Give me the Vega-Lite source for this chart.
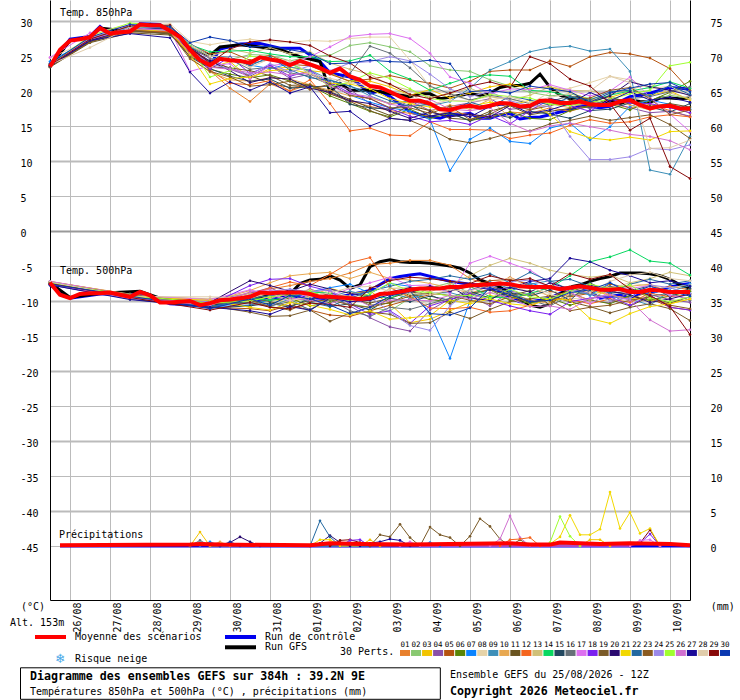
{"$schema":"https://vega.github.io/schema/vega-lite/v6.json","width":640,"height":600,"autosize":{"type":"none"},"padding":{"left":50,"top":0,"right":50,"bottom":100},"background":"white","config":{"view":{"stroke":null},"text":{"font":"DejaVu Sans Mono","fontSize":10,"align":"left","baseline":"middle","color":"black"},"axis":{"labelFont":"DejaVu Sans Mono","labelFontSize":10,"labelColor":"black","title":null}},"datasets":{"one":[{}],
"main850":[
{"m":"ctl","t":0,"v":23.5},{"m":"ctl","t":12,"v":27.4},{"m":"ctl","t":24,"v":27.8},{"m":"ctl","t":30,"v":29.2},{"m":"ctl","t":36,"v":28},{"m":"ctl","t":48,"v":28.6},{"m":"ctl","t":54,"v":29.6},{"m":"ctl","t":66,"v":29.5},{"m":"ctl","t":78,"v":27.6},{"m":"ctl","t":84,"v":25.6},{"m":"ctl","t":96,"v":23.7},{"m":"ctl","t":102,"v":26},{"m":"ctl","t":108,"v":26.3},{"m":"ctl","t":114,"v":26.7},{"m":"ctl","t":126,"v":26.8},{"m":"ctl","t":138,"v":26.1},{"m":"ctl","t":150,"v":26.1},{"m":"ctl","t":162,"v":24.2},{"m":"ctl","t":168,"v":22.6},{"m":"ctl","t":180,"v":22},{"m":"ctl","t":192,"v":19.7},{"m":"ctl","t":198,"v":20},{"m":"ctl","t":204,"v":19.2},{"m":"ctl","t":216,"v":17},{"m":"ctl","t":222,"v":16.6},{"m":"ctl","t":234,"v":16.1},{"m":"ctl","t":240,"v":16.6},{"m":"ctl","t":246,"v":16.6},{"m":"ctl","t":252,"v":16.8},{"m":"ctl","t":258,"v":16.1},{"m":"ctl","t":264,"v":16.1},{"m":"ctl","t":270,"v":16.6},{"m":"ctl","t":276,"v":16.8},{"m":"ctl","t":282,"v":16},{"m":"ctl","t":288,"v":16.2},{"m":"ctl","t":294,"v":16.3},{"m":"ctl","t":300,"v":16.6},{"m":"ctl","t":306,"v":17},{"m":"ctl","t":312,"v":17.3},{"m":"ctl","t":318,"v":17.9},{"m":"ctl","t":324,"v":17.8},{"m":"ctl","t":330,"v":17.6},{"m":"ctl","t":336,"v":17.8},{"m":"ctl","t":342,"v":18.5},{"m":"ctl","t":348,"v":19.2},{"m":"ctl","t":354,"v":19.4},{"m":"ctl","t":360,"v":19.7},{"m":"ctl","t":366,"v":20.1},{"m":"ctl","t":372,"v":20.5},{"m":"ctl","t":378,"v":20.4},{"m":"ctl","t":384,"v":20.3},
{"m":"gfs","t":0,"v":23.5},{"m":"gfs","t":12,"v":27.2},{"m":"gfs","t":24,"v":27.7},{"m":"gfs","t":30,"v":29},{"m":"gfs","t":48,"v":28.5},{"m":"gfs","t":60,"v":29.5},{"m":"gfs","t":72,"v":28.7},{"m":"gfs","t":84,"v":26},{"m":"gfs","t":96,"v":25.1},{"m":"gfs","t":102,"v":26.3},{"m":"gfs","t":114,"v":26.6},{"m":"gfs","t":126,"v":26.3},{"m":"gfs","t":138,"v":25.9},{"m":"gfs","t":150,"v":24.9},{"m":"gfs","t":162,"v":24.2},{"m":"gfs","t":168,"v":19.9},{"m":"gfs","t":174,"v":21.1},{"m":"gfs","t":180,"v":20.1},{"m":"gfs","t":192,"v":20.1},{"m":"gfs","t":216,"v":19.2},{"m":"gfs","t":222,"v":19.6},{"m":"gfs","t":228,"v":19.6},{"m":"gfs","t":234,"v":18.9},{"m":"gfs","t":240,"v":19.1},{"m":"gfs","t":246,"v":19.4},{"m":"gfs","t":252,"v":19.6},{"m":"gfs","t":258,"v":19.4},{"m":"gfs","t":264,"v":19.7},{"m":"gfs","t":270,"v":20.5},{"m":"gfs","t":276,"v":20.8},{"m":"gfs","t":282,"v":20.8},{"m":"gfs","t":288,"v":21.1},{"m":"gfs","t":294,"v":22.4},{"m":"gfs","t":300,"v":20.5},{"m":"gfs","t":306,"v":19.4},{"m":"gfs","t":312,"v":18.9},{"m":"gfs","t":318,"v":19.1},{"m":"gfs","t":324,"v":18.2},{"m":"gfs","t":330,"v":18},{"m":"gfs","t":336,"v":18.7},{"m":"gfs","t":342,"v":18.2},{"m":"gfs","t":348,"v":18.7},{"m":"gfs","t":354,"v":18.5},{"m":"gfs","t":360,"v":18.4},{"m":"gfs","t":366,"v":19},{"m":"gfs","t":372,"v":19},{"m":"gfs","t":378,"v":18.9},{"m":"gfs","t":384,"v":19},
{"m":"moy","t":0,"v":23.5},{"m":"moy","t":6,"v":25.9},{"m":"moy","t":12,"v":27.2},{"m":"moy","t":18,"v":27.4},{"m":"moy","t":24,"v":27.7},{"m":"moy","t":30,"v":29},{"m":"moy","t":36,"v":28.2},{"m":"moy","t":42,"v":28.4},{"m":"moy","t":48,"v":28.5},{"m":"moy","t":54,"v":29.5},{"m":"moy","t":60,"v":29.4},{"m":"moy","t":66,"v":29.4},{"m":"moy","t":72,"v":28.6},{"m":"moy","t":78,"v":27.7},{"m":"moy","t":84,"v":25.9},{"m":"moy","t":90,"v":24.4},{"m":"moy","t":96,"v":23.7},{"m":"moy","t":102,"v":24.6},{"m":"moy","t":108,"v":24.4},{"m":"moy","t":114,"v":24.3},{"m":"moy","t":120,"v":24},{"m":"moy","t":126,"v":24.8},{"m":"moy","t":132,"v":24.5},{"m":"moy","t":138,"v":24.3},{"m":"moy","t":144,"v":23.7},{"m":"moy","t":150,"v":24.3},{"m":"moy","t":156,"v":23.8},{"m":"moy","t":162,"v":23.3},{"m":"moy","t":168,"v":22.6},{"m":"moy","t":174,"v":23.2},{"m":"moy","t":180,"v":22.1},{"m":"moy","t":186,"v":21.6},{"m":"moy","t":192,"v":20.7},{"m":"moy","t":198,"v":20.5},{"m":"moy","t":204,"v":19.9},{"m":"moy","t":210,"v":19.2},{"m":"moy","t":216,"v":18.6},{"m":"moy","t":222,"v":18.6},{"m":"moy","t":228,"v":18.2},{"m":"moy","t":234,"v":17.4},{"m":"moy","t":240,"v":17.3},{"m":"moy","t":246,"v":17.7},{"m":"moy","t":252,"v":17.9},{"m":"moy","t":258,"v":17.6},{"m":"moy","t":264,"v":17.9},{"m":"moy","t":270,"v":18.3},{"m":"moy","t":276,"v":18.2},{"m":"moy","t":282,"v":17.8},{"m":"moy","t":288,"v":17.9},{"m":"moy","t":294,"v":18.6},{"m":"moy","t":300,"v":18.6},{"m":"moy","t":306,"v":18.3},{"m":"moy","t":312,"v":18.3},{"m":"moy","t":318,"v":18.5},{"m":"moy","t":324,"v":18.1},{"m":"moy","t":330,"v":18},{"m":"moy","t":336,"v":18},{"m":"moy","t":342,"v":18.5},{"m":"moy","t":348,"v":18.7},{"m":"moy","t":354,"v":18},{"m":"moy","t":360,"v":17.5},{"m":"moy","t":366,"v":17.8},{"m":"moy","t":372,"v":17.9},{"m":"moy","t":378,"v":17.5},{"m":"moy","t":384,"v":17.5}],
"main500":[
{"m":"ctl","t":0,"v":-7.7},{"m":"ctl","t":12,"v":-9.6},{"m":"ctl","t":30,"v":-9},{"m":"ctl","t":54,"v":-8.9},{"m":"ctl","t":72,"v":-10.4},{"m":"ctl","t":96,"v":-10.7},{"m":"ctl","t":120,"v":-9.9},{"m":"ctl","t":144,"v":-9.3},{"m":"ctl","t":168,"v":-9.7},{"m":"ctl","t":192,"v":-8.5},{"m":"ctl","t":204,"v":-6.8},{"m":"ctl","t":210,"v":-6.5},{"m":"ctl","t":216,"v":-6.3},{"m":"ctl","t":222,"v":-6.1},{"m":"ctl","t":240,"v":-7.2},{"m":"ctl","t":252,"v":-7.6},{"m":"ctl","t":258,"v":-7.7},{"m":"ctl","t":270,"v":-8.7},{"m":"ctl","t":276,"v":-9.6},{"m":"ctl","t":282,"v":-10.1},{"m":"ctl","t":288,"v":-10.1},{"m":"ctl","t":294,"v":-9.9},{"m":"ctl","t":300,"v":-9.6},{"m":"ctl","t":306,"v":-8.9},{"m":"ctl","t":312,"v":-8.2},{"m":"ctl","t":318,"v":-8.4},{"m":"ctl","t":324,"v":-8.7},{"m":"ctl","t":330,"v":-9.6},{"m":"ctl","t":336,"v":-9.4},{"m":"ctl","t":342,"v":-9.1},{"m":"ctl","t":348,"v":-9.6},{"m":"ctl","t":354,"v":-8.9},{"m":"ctl","t":360,"v":-8.9},{"m":"ctl","t":366,"v":-8.4},{"m":"ctl","t":372,"v":-8},{"m":"ctl","t":378,"v":-7.7},{"m":"ctl","t":384,"v":-7.5},
{"m":"gfs","t":0,"v":-7.4},{"m":"gfs","t":12,"v":-9.5},{"m":"gfs","t":30,"v":-8.9},{"m":"gfs","t":54,"v":-8.6},{"m":"gfs","t":72,"v":-10.1},{"m":"gfs","t":96,"v":-10.5},{"m":"gfs","t":120,"v":-9.5},{"m":"gfs","t":144,"v":-9},{"m":"gfs","t":150,"v":-7.5},{"m":"gfs","t":156,"v":-7},{"m":"gfs","t":162,"v":-6.9},{"m":"gfs","t":168,"v":-6.4},{"m":"gfs","t":174,"v":-7},{"m":"gfs","t":180,"v":-8.2},{"m":"gfs","t":186,"v":-7.7},{"m":"gfs","t":192,"v":-5.1},{"m":"gfs","t":198,"v":-4.4},{"m":"gfs","t":204,"v":-4.1},{"m":"gfs","t":210,"v":-4.4},{"m":"gfs","t":216,"v":-4.5},{"m":"gfs","t":222,"v":-4.5},{"m":"gfs","t":228,"v":-4.6},{"m":"gfs","t":234,"v":-4.8},{"m":"gfs","t":240,"v":-5},{"m":"gfs","t":246,"v":-5.3},{"m":"gfs","t":252,"v":-6},{"m":"gfs","t":258,"v":-7},{"m":"gfs","t":264,"v":-7.5},{"m":"gfs","t":270,"v":-8},{"m":"gfs","t":276,"v":-8.9},{"m":"gfs","t":282,"v":-9.7},{"m":"gfs","t":288,"v":-10.6},{"m":"gfs","t":294,"v":-10.9},{"m":"gfs","t":300,"v":-10.4},{"m":"gfs","t":306,"v":-9.1},{"m":"gfs","t":312,"v":-8},{"m":"gfs","t":318,"v":-7.7},{"m":"gfs","t":324,"v":-7.2},{"m":"gfs","t":330,"v":-6.8},{"m":"gfs","t":336,"v":-6.5},{"m":"gfs","t":342,"v":-6},{"m":"gfs","t":348,"v":-6},{"m":"gfs","t":354,"v":-6},{"m":"gfs","t":360,"v":-6.1},{"m":"gfs","t":366,"v":-6.4},{"m":"gfs","t":372,"v":-6.9},{"m":"gfs","t":378,"v":-7.7},{"m":"gfs","t":384,"v":-8.2},
{"m":"moy","t":0,"v":-7.4},{"m":"moy","t":6,"v":-9.1},{"m":"moy","t":12,"v":-9.6},{"m":"moy","t":18,"v":-9},{"m":"moy","t":24,"v":-8.9},{"m":"moy","t":30,"v":-8.9},{"m":"moy","t":36,"v":-8.8},{"m":"moy","t":42,"v":-9.1},{"m":"moy","t":48,"v":-9.4},{"m":"moy","t":54,"v":-8.7},{"m":"moy","t":60,"v":-9.2},{"m":"moy","t":66,"v":-10.2},{"m":"moy","t":72,"v":-10.2},{"m":"moy","t":78,"v":-10.1},{"m":"moy","t":84,"v":-10},{"m":"moy","t":90,"v":-10.6},{"m":"moy","t":96,"v":-10.3},{"m":"moy","t":102,"v":-9.9},{"m":"moy","t":108,"v":-9.8},{"m":"moy","t":114,"v":-9.6},{"m":"moy","t":120,"v":-9.4},{"m":"moy","t":126,"v":-8.8},{"m":"moy","t":132,"v":-8.9},{"m":"moy","t":138,"v":-8.8},{"m":"moy","t":144,"v":-8.8},{"m":"moy","t":150,"v":-8.8},{"m":"moy","t":156,"v":-9},{"m":"moy","t":162,"v":-9.4},{"m":"moy","t":168,"v":-9.4},{"m":"moy","t":174,"v":-9.5},{"m":"moy","t":180,"v":-9.6},{"m":"moy","t":186,"v":-9.7},{"m":"moy","t":192,"v":-9.6},{"m":"moy","t":198,"v":-9},{"m":"moy","t":204,"v":-8.9},{"m":"moy","t":210,"v":-8.7},{"m":"moy","t":216,"v":-8.4},{"m":"moy","t":222,"v":-8.2},{"m":"moy","t":228,"v":-8.2},{"m":"moy","t":234,"v":-8.2},{"m":"moy","t":240,"v":-8},{"m":"moy","t":246,"v":-8},{"m":"moy","t":252,"v":-7.8},{"m":"moy","t":258,"v":-7.7},{"m":"moy","t":264,"v":-7.6},{"m":"moy","t":270,"v":-7.5},{"m":"moy","t":276,"v":-7.6},{"m":"moy","t":282,"v":-7.9},{"m":"moy","t":288,"v":-8},{"m":"moy","t":294,"v":-8},{"m":"moy","t":300,"v":-8},{"m":"moy","t":306,"v":-8.3},{"m":"moy","t":312,"v":-8.1},{"m":"moy","t":318,"v":-7.9},{"m":"moy","t":324,"v":-8.1},{"m":"moy","t":330,"v":-8.4},{"m":"moy","t":336,"v":-8.4},{"m":"moy","t":342,"v":-8.3},{"m":"moy","t":348,"v":-8.7},{"m":"moy","t":354,"v":-8.7},{"m":"moy","t":360,"v":-8.4},{"m":"moy","t":366,"v":-8.5},{"m":"moy","t":372,"v":-8.7},{"m":"moy","t":378,"v":-8.7},{"m":"moy","t":384,"v":-8.7}],
"mainprcp":[{"m":"ctl","t":6,"v":0},{"m":"ctl","t":384,"v":0},{"m":"moy","t":6,"v":0.1},{"m":"moy","t":84,"v":0.2},{"m":"moy","t":90,"v":0.3},{"m":"moy","t":102,"v":0.2},{"m":"moy","t":156,"v":0.1},{"m":"moy","t":168,"v":0.4},{"m":"moy","t":186,"v":0.3},{"m":"moy","t":216,"v":0.2},{"m":"moy","t":276,"v":0.4},{"m":"moy","t":288,"v":0.2},{"m":"moy","t":300,"v":0.2},{"m":"moy","t":306,"v":0.5},{"m":"moy","t":330,"v":0.3},{"m":"moy","t":348,"v":0.4},{"m":"moy","t":372,"v":0.3},{"m":"moy","t":384,"v":0.1}],
"prcp":[{"m":"03","t":84,"v":0},{"m":"03","t":90,"v":2},{"m":"03","t":96,"v":0},{"m":"03","t":186,"v":0},{"m":"03","t":192,"v":0.9},{"m":"03","t":198,"v":0},{"m":"03","t":318,"v":0},{"m":"03","t":324,"v":0.9},{"m":"03","t":330,"v":0.9},{"m":"03","t":336,"v":0},{"m":"16","t":84,"v":0},{"m":"16","t":90,"v":0.8},{"m":"16","t":96,"v":0},{"m":"07","t":90,"v":0},{"m":"07","t":96,"v":0.6},{"m":"07","t":102,"v":0},{"m":"07","t":222,"v":0},{"m":"07","t":228,"v":0.5},{"m":"07","t":234,"v":0},{"m":"10","t":96,"v":0},{"m":"10","t":102,"v":0.6},{"m":"10","t":108,"v":0},{"m":"20","t":102,"v":0},{"m":"20","t":108,"v":0.5},{"m":"20","t":114,"v":1.3},{"m":"20","t":120,"v":0.6},{"m":"20","t":126,"v":0},{"m":"20","t":156,"v":0},{"m":"20","t":162,"v":0.4},{"m":"20","t":168,"v":1.5},{"m":"20","t":174,"v":0.5},{"m":"20","t":180,"v":0},{"m":"30","t":102,"v":0},{"m":"30","t":108,"v":0.6},{"m":"30","t":114,"v":0},{"m":"22","t":156,"v":0},{"m":"22","t":162,"v":3.6},{"m":"22","t":168,"v":1.3},{"m":"22","t":174,"v":0},{"m":"29","t":168,"v":0},{"m":"29","t":174,"v":0.8},{"m":"29","t":180,"v":0.9},{"m":"29","t":186,"v":0.5},{"m":"29","t":192,"v":0},{"m":"29","t":348,"v":0},{"m":"29","t":354,"v":0.4},{"m":"29","t":360,"v":2.3},{"m":"29","t":366,"v":0},{"m":"18","t":174,"v":0},{"m":"18","t":180,"v":0.8},{"m":"18","t":186,"v":0.9},{"m":"18","t":192,"v":0},{"m":"18","t":348,"v":0},{"m":"18","t":354,"v":0.4},{"m":"18","t":360,"v":1.7},{"m":"18","t":366,"v":0},{"m":"21","t":156,"v":0},{"m":"21","t":162,"v":0.9},{"m":"21","t":168,"v":0.9},{"m":"21","t":174,"v":0},{"m":"21","t":300,"v":0.3},{"m":"21","t":306,"v":1.3},{"m":"21","t":312,"v":4.4},{"m":"21","t":318,"v":1.6},{"m":"21","t":324,"v":1.6},{"m":"21","t":330,"v":2.4},{"m":"21","t":336,"v":7.7},{"m":"21","t":342,"v":2.5},{"m":"21","t":348,"v":4.8},{"m":"21","t":354,"v":1.8},{"m":"21","t":360,"v":2.5},{"m":"21","t":366,"v":0},{"m":"19","t":192,"v":0},{"m":"19","t":198,"v":1.6},{"m":"19","t":204,"v":1.3},{"m":"19","t":210,"v":3.1},{"m":"19","t":216,"v":1.2},{"m":"19","t":222,"v":0},{"m":"19","t":228,"v":2.7},{"m":"19","t":234,"v":1.6},{"m":"19","t":240,"v":1.2},{"m":"19","t":246,"v":0},{"m":"19","t":252,"v":1.4},{"m":"19","t":258,"v":3.9},{"m":"19","t":264,"v":2.8},{"m":"19","t":270,"v":1},{"m":"19","t":276,"v":0},{"m":"19","t":282,"v":0.9},{"m":"19","t":288,"v":0},{"m":"26","t":264,"v":0},{"m":"26","t":270,"v":1},{"m":"26","t":276,"v":4.3},{"m":"26","t":282,"v":1.2},{"m":"26","t":288,"v":0},{"m":"12","t":270,"v":0},{"m":"12","t":276,"v":0.9},{"m":"12","t":282,"v":1},{"m":"12","t":288,"v":1.2},{"m":"12","t":294,"v":0},{"m":"25","t":300,"v":0.5},{"m":"25","t":306,"v":4.2},{"m":"25","t":312,"v":1.4},{"m":"25","t":318,"v":0},{"m":"27","t":186,"v":0},{"m":"27","t":192,"v":0.4},{"m":"27","t":198,"v":0.6},{"m":"27","t":204,"v":1},{"m":"27","t":210,"v":0.8},{"m":"27","t":216,"v":0},{"m":"17","t":210,"v":0},{"m":"17","t":216,"v":0.6},{"m":"17","t":222,"v":0},{"m":"17","t":348,"v":0},{"m":"17","t":354,"v":0.8},{"m":"17","t":360,"v":0.9},{"m":"17","t":366,"v":0}],
"t850":[
{"m":"01","t":0,"v":23.5},{"m":"01","t":24,"v":27.8},{"m":"01","t":48,"v":28.6},{"m":"01","t":72,"v":28.4},{"m":"01","t":84,"v":25.6},{"m":"01","t":96,"v":22.9},{"m":"01","t":108,"v":20.4},{"m":"01","t":120,"v":18.5},{"m":"01","t":132,"v":21},{"m":"01","t":144,"v":20},{"m":"01","t":156,"v":21},{"m":"01","t":168,"v":19.6},{"m":"01","t":180,"v":18.6},{"m":"01","t":192,"v":17.8},{"m":"01","t":204,"v":17.2},{"m":"01","t":216,"v":16.8},{"m":"01","t":228,"v":16.4},{"m":"01","t":240,"v":17.1},{"m":"01","t":252,"v":16.6},{"m":"01","t":264,"v":16.3},{"m":"01","t":276,"v":17},{"m":"01","t":288,"v":16.8},{"m":"01","t":300,"v":17.6},{"m":"01","t":312,"v":17.1},{"m":"01","t":324,"v":17.9},{"m":"01","t":336,"v":18.2},{"m":"01","t":348,"v":17.6},{"m":"01","t":360,"v":18.1},{"m":"01","t":372,"v":17.2},{"m":"01","t":384,"v":16.3},
{"m":"02","t":0,"v":23.8},{"m":"02","t":24,"v":27.5},{"m":"02","t":48,"v":28.9},{"m":"02","t":72,"v":28.9},{"m":"02","t":84,"v":26.4},{"m":"02","t":96,"v":24.6},{"m":"02","t":108,"v":24.5},{"m":"02","t":120,"v":25.2},{"m":"02","t":132,"v":25.1},{"m":"02","t":144,"v":24.3},{"m":"02","t":156,"v":24.9},{"m":"02","t":168,"v":25.1},{"m":"02","t":180,"v":26.5},{"m":"02","t":192,"v":26.9},{"m":"02","t":204,"v":26.3},{"m":"02","t":216,"v":25.6},{"m":"02","t":228,"v":23.6},{"m":"02","t":240,"v":23},{"m":"02","t":252,"v":22.8},{"m":"02","t":264,"v":21.6},{"m":"02","t":276,"v":20.7},{"m":"02","t":288,"v":19.8},{"m":"02","t":300,"v":19.3},{"m":"02","t":312,"v":19.6},{"m":"02","t":324,"v":18.9},{"m":"02","t":336,"v":19.3},{"m":"02","t":348,"v":18.2},{"m":"02","t":360,"v":18.6},{"m":"02","t":372,"v":19.4},{"m":"02","t":384,"v":18.9},
{"m":"03","t":0,"v":23.6},{"m":"03","t":24,"v":27.3},{"m":"03","t":48,"v":28.4},{"m":"03","t":72,"v":29},{"m":"03","t":84,"v":25.9},{"m":"03","t":96,"v":23.3},{"m":"03","t":108,"v":24.2},{"m":"03","t":120,"v":21.8},{"m":"03","t":132,"v":23.2},{"m":"03","t":144,"v":23.4},{"m":"03","t":156,"v":22.9},{"m":"03","t":168,"v":22.6},{"m":"03","t":180,"v":21.3},{"m":"03","t":192,"v":21.4},{"m":"03","t":204,"v":20.6},{"m":"03","t":216,"v":19.4},{"m":"03","t":228,"v":20.2},{"m":"03","t":240,"v":19},{"m":"03","t":252,"v":19.7},{"m":"03","t":264,"v":20.6},{"m":"03","t":276,"v":21},{"m":"03","t":288,"v":20.3},{"m":"03","t":300,"v":20.6},{"m":"03","t":312,"v":19.8},{"m":"03","t":324,"v":18.7},{"m":"03","t":336,"v":19.1},{"m":"03","t":348,"v":19.9},{"m":"03","t":360,"v":19.4},{"m":"03","t":372,"v":20},{"m":"03","t":384,"v":18.7},
{"m":"04","t":0,"v":23.7},{"m":"04","t":24,"v":27.6},{"m":"04","t":48,"v":28.6},{"m":"04","t":72,"v":28.5},{"m":"04","t":84,"v":26.1},{"m":"04","t":96,"v":24.7},{"m":"04","t":108,"v":23.1},{"m":"04","t":120,"v":22.1},{"m":"04","t":132,"v":23.6},{"m":"04","t":144,"v":21.8},{"m":"04","t":156,"v":22.4},{"m":"04","t":168,"v":21.1},{"m":"04","t":180,"v":20.2},{"m":"04","t":192,"v":18.2},{"m":"04","t":204,"v":17.3},{"m":"04","t":216,"v":18.6},{"m":"04","t":228,"v":17.2},{"m":"04","t":240,"v":17.8},{"m":"04","t":252,"v":18.3},{"m":"04","t":264,"v":18.9},{"m":"04","t":276,"v":17.4},{"m":"04","t":288,"v":17.6},{"m":"04","t":300,"v":18.9},{"m":"04","t":312,"v":18.3},{"m":"04","t":324,"v":17.5},{"m":"04","t":336,"v":18.4},{"m":"04","t":348,"v":17.6},{"m":"04","t":360,"v":16.9},{"m":"04","t":372,"v":17.1},{"m":"04","t":384,"v":16.4},
{"m":"05","t":0,"v":23.9},{"m":"05","t":24,"v":27.1},{"m":"05","t":48,"v":29.4},{"m":"05","t":72,"v":28.3},{"m":"05","t":84,"v":26.7},{"m":"05","t":96,"v":25.3},{"m":"05","t":108,"v":25.6},{"m":"05","t":120,"v":24.4},{"m":"05","t":132,"v":25.1},{"m":"05","t":144,"v":23.8},{"m":"05","t":156,"v":23.6},{"m":"05","t":168,"v":22.4},{"m":"05","t":180,"v":21.4},{"m":"05","t":192,"v":21.7},{"m":"05","t":204,"v":22.2},{"m":"05","t":216,"v":21.6},{"m":"05","t":228,"v":21.1},{"m":"05","t":240,"v":20.4},{"m":"05","t":252,"v":21.4},{"m":"05","t":264,"v":22.8},{"m":"05","t":276,"v":23},{"m":"05","t":288,"v":23},{"m":"05","t":300,"v":24.3},{"m":"05","t":312,"v":23.5},{"m":"05","t":324,"v":24.9},{"m":"05","t":336,"v":25.5},{"m":"05","t":348,"v":25.3},{"m":"05","t":360,"v":24.7},{"m":"05","t":372,"v":23.2},{"m":"05","t":384,"v":20.1},
{"m":"06","t":0,"v":23.6},{"m":"06","t":24,"v":27},{"m":"06","t":48,"v":28.8},{"m":"06","t":72,"v":28.1},{"m":"06","t":84,"v":25.3},{"m":"06","t":96,"v":23.1},{"m":"06","t":108,"v":22.4},{"m":"06","t":120,"v":21.9},{"m":"06","t":132,"v":22.3},{"m":"06","t":144,"v":21.4},{"m":"06","t":156,"v":20.8},{"m":"06","t":168,"v":19.3},{"m":"06","t":180,"v":18.2},{"m":"06","t":192,"v":17.1},{"m":"06","t":204,"v":16.3},{"m":"06","t":216,"v":17.4},{"m":"06","t":228,"v":16.1},{"m":"06","t":240,"v":16.8},{"m":"06","t":252,"v":15.8},{"m":"06","t":264,"v":16.2},{"m":"06","t":276,"v":17},{"m":"06","t":288,"v":16.1},{"m":"06","t":300,"v":15.9},{"m":"06","t":312,"v":17.2},{"m":"06","t":324,"v":17.8},{"m":"06","t":336,"v":18.1},{"m":"06","t":348,"v":17.3},{"m":"06","t":360,"v":18.6},{"m":"06","t":372,"v":19.8},{"m":"06","t":384,"v":21.4},
{"m":"07","t":0,"v":24.2},{"m":"07","t":24,"v":27.4},{"m":"07","t":48,"v":29},{"m":"07","t":72,"v":29},{"m":"07","t":84,"v":26.2},{"m":"07","t":96,"v":24.1},{"m":"07","t":108,"v":24.8},{"m":"07","t":120,"v":23.7},{"m":"07","t":132,"v":23.2},{"m":"07","t":144,"v":23.9},{"m":"07","t":156,"v":22.7},{"m":"07","t":168,"v":21},{"m":"07","t":180,"v":19.4},{"m":"07","t":192,"v":18.4},{"m":"07","t":204,"v":17.6},{"m":"07","t":216,"v":17.1},{"m":"07","t":228,"v":15.9},{"m":"07","t":240,"v":8.6},{"m":"07","t":252,"v":13.1},{"m":"07","t":264,"v":14.7},{"m":"07","t":276,"v":12.8},{"m":"07","t":288,"v":12.5},{"m":"07","t":300,"v":14.7},{"m":"07","t":312,"v":15.4},{"m":"07","t":324,"v":13},{"m":"07","t":336,"v":14.9},{"m":"07","t":348,"v":17.8},{"m":"07","t":360,"v":18.7},{"m":"07","t":372,"v":18.1},{"m":"07","t":384,"v":17.4},
{"m":"08","t":0,"v":24.7},{"m":"08","t":24,"v":27.3},{"m":"08","t":48,"v":29.3},{"m":"08","t":72,"v":29.6},{"m":"08","t":84,"v":27.1},{"m":"08","t":96,"v":26.6},{"m":"08","t":108,"v":27.1},{"m":"08","t":120,"v":27.4},{"m":"08","t":132,"v":27},{"m":"08","t":144,"v":27},{"m":"08","t":156,"v":27.2},{"m":"08","t":168,"v":27.1},{"m":"08","t":180,"v":27.5},{"m":"08","t":192,"v":27.7},{"m":"08","t":204,"v":27.7},{"m":"08","t":216,"v":24.4},{"m":"08","t":228,"v":20.6},{"m":"08","t":240,"v":19.4},{"m":"08","t":252,"v":18.7},{"m":"08","t":264,"v":19.2},{"m":"08","t":276,"v":18.8},{"m":"08","t":288,"v":18.2},{"m":"08","t":300,"v":19.8},{"m":"08","t":312,"v":20.4},{"m":"08","t":324,"v":21.2},{"m":"08","t":336,"v":22.1},{"m":"08","t":348,"v":21.6},{"m":"08","t":360,"v":20.3},{"m":"08","t":372,"v":20.7},{"m":"08","t":384,"v":19.2},
{"m":"09","t":0,"v":23.7},{"m":"09","t":24,"v":27.4},{"m":"09","t":48,"v":29},{"m":"09","t":72,"v":28.8},{"m":"09","t":84,"v":26.3},{"m":"09","t":96,"v":25},{"m":"09","t":108,"v":24.7},{"m":"09","t":120,"v":23.9},{"m":"09","t":132,"v":24.5},{"m":"09","t":144,"v":23.4},{"m":"09","t":156,"v":23},{"m":"09","t":168,"v":21.6},{"m":"09","t":180,"v":20.7},{"m":"09","t":192,"v":19.3},{"m":"09","t":204,"v":18.2},{"m":"09","t":216,"v":18.6},{"m":"09","t":228,"v":17.9},{"m":"09","t":240,"v":18.5},{"m":"09","t":252,"v":20.4},{"m":"09","t":264,"v":23},{"m":"09","t":276,"v":24.2},{"m":"09","t":288,"v":25.6},{"m":"09","t":300,"v":26.2},{"m":"09","t":312,"v":26.4},{"m":"09","t":324,"v":25.7},{"m":"09","t":336,"v":26},{"m":"09","t":348,"v":22.8},{"m":"09","t":360,"v":8.7},{"m":"09","t":372,"v":8.1},{"m":"09","t":384,"v":13.5},
{"m":"10","t":0,"v":23.5},{"m":"10","t":24,"v":27.6},{"m":"10","t":48,"v":28.4},{"m":"10","t":72,"v":28.7},{"m":"10","t":84,"v":24.8},{"m":"10","t":96,"v":22.7},{"m":"10","t":108,"v":21.6},{"m":"10","t":120,"v":21.4},{"m":"10","t":132,"v":21.9},{"m":"10","t":144,"v":21.7},{"m":"10","t":156,"v":20.9},{"m":"10","t":168,"v":20.1},{"m":"10","t":180,"v":19.3},{"m":"10","t":192,"v":19},{"m":"10","t":204,"v":18.2},{"m":"10","t":216,"v":18.4},{"m":"10","t":228,"v":17.1},{"m":"10","t":240,"v":18},{"m":"10","t":252,"v":17.4},{"m":"10","t":264,"v":18.8},{"m":"10","t":276,"v":16.2},{"m":"10","t":288,"v":17.4},{"m":"10","t":300,"v":18.2},{"m":"10","t":312,"v":17.6},{"m":"10","t":324,"v":18.6},{"m":"10","t":336,"v":19.1},{"m":"10","t":348,"v":18},{"m":"10","t":360,"v":17.3},{"m":"10","t":372,"v":18.1},{"m":"10","t":384,"v":16.8},
{"m":"11","t":0,"v":23.4},{"m":"11","t":24,"v":26.9},{"m":"11","t":48,"v":28.3},{"m":"11","t":72,"v":28},{"m":"11","t":84,"v":25.7},{"m":"11","t":96,"v":24.2},{"m":"11","t":108,"v":23.3},{"m":"11","t":120,"v":22.2},{"m":"11","t":132,"v":21.1},{"m":"11","t":144,"v":20.5},{"m":"11","t":156,"v":20.8},{"m":"11","t":168,"v":19.9},{"m":"11","t":180,"v":18.8},{"m":"11","t":192,"v":17.6},{"m":"11","t":204,"v":16.5},{"m":"11","t":216,"v":17.9},{"m":"11","t":228,"v":17.2},{"m":"11","t":240,"v":16.1},{"m":"11","t":252,"v":15.9},{"m":"11","t":264,"v":17.1},{"m":"11","t":276,"v":17.9},{"m":"11","t":288,"v":16.6},{"m":"11","t":300,"v":17.1},{"m":"11","t":312,"v":17.5},{"m":"11","t":324,"v":17.9},{"m":"11","t":336,"v":18.9},{"m":"11","t":348,"v":18.6},{"m":"11","t":360,"v":17.8},{"m":"11","t":372,"v":18.2},{"m":"11","t":384,"v":17.7},
{"m":"12","t":0,"v":23.6},{"m":"12","t":24,"v":27.5},{"m":"12","t":48,"v":28.7},{"m":"12","t":72,"v":28.4},{"m":"12","t":84,"v":25.3},{"m":"12","t":96,"v":23},{"m":"12","t":108,"v":21.1},{"m":"12","t":120,"v":20.9},{"m":"12","t":132,"v":21.5},{"m":"12","t":144,"v":20},{"m":"12","t":156,"v":21.6},{"m":"12","t":168,"v":18.2},{"m":"12","t":180,"v":14.3},{"m":"12","t":192,"v":14.7},{"m":"12","t":204,"v":13.7},{"m":"12","t":216,"v":13.6},{"m":"12","t":228,"v":15.6},{"m":"12","t":240,"v":14.5},{"m":"12","t":252,"v":14.5},{"m":"12","t":264,"v":14.4},{"m":"12","t":276,"v":13.2},{"m":"12","t":288,"v":13.7},{"m":"12","t":300,"v":14},{"m":"12","t":312,"v":15.1},{"m":"12","t":324,"v":15.9},{"m":"12","t":336,"v":15.4},{"m":"12","t":348,"v":15.6},{"m":"12","t":360,"v":16.3},{"m":"12","t":372,"v":16.6},{"m":"12","t":384,"v":16.3},
{"m":"13","t":0,"v":23.7},{"m":"13","t":24,"v":27.6},{"m":"13","t":48,"v":29.1},{"m":"13","t":72,"v":29.2},{"m":"13","t":84,"v":26.5},{"m":"13","t":96,"v":24.9},{"m":"13","t":108,"v":26},{"m":"13","t":120,"v":25.4},{"m":"13","t":132,"v":26.2},{"m":"13","t":144,"v":25.3},{"m":"13","t":156,"v":25.6},{"m":"13","t":168,"v":24},{"m":"13","t":180,"v":23.1},{"m":"13","t":192,"v":22.4},{"m":"13","t":204,"v":20.8},{"m":"13","t":216,"v":20.1},{"m":"13","t":228,"v":19.1},{"m":"13","t":240,"v":19.6},{"m":"13","t":252,"v":20.4},{"m":"13","t":264,"v":19.2},{"m":"13","t":276,"v":18.7},{"m":"13","t":288,"v":19.4},{"m":"13","t":300,"v":20.6},{"m":"13","t":312,"v":20.1},{"m":"13","t":324,"v":20},{"m":"13","t":336,"v":19.5},{"m":"13","t":348,"v":20.2},{"m":"13","t":360,"v":21},{"m":"13","t":372,"v":19.7},{"m":"13","t":384,"v":18.9},
{"m":"14","t":0,"v":23.8},{"m":"14","t":24,"v":27.5},{"m":"14","t":48,"v":29.2},{"m":"14","t":72,"v":29},{"m":"14","t":84,"v":26.6},{"m":"14","t":96,"v":25.6},{"m":"14","t":108,"v":25.7},{"m":"14","t":120,"v":25.8},{"m":"14","t":132,"v":25.3},{"m":"14","t":144,"v":24.9},{"m":"14","t":156,"v":24.9},{"m":"14","t":168,"v":24.2},{"m":"14","t":180,"v":24.3},{"m":"14","t":192,"v":25.1},{"m":"14","t":204,"v":22.8},{"m":"14","t":216,"v":21.7},{"m":"14","t":228,"v":20.1},{"m":"14","t":240,"v":21.1},{"m":"14","t":252,"v":22},{"m":"14","t":264,"v":22.3},{"m":"14","t":276,"v":22.1},{"m":"14","t":288,"v":20.1},{"m":"14","t":300,"v":19.9},{"m":"14","t":312,"v":19.3},{"m":"14","t":324,"v":18.3},{"m":"14","t":336,"v":19.4},{"m":"14","t":348,"v":20},{"m":"14","t":360,"v":20.5},{"m":"14","t":372,"v":21.3},{"m":"14","t":384,"v":20.4},
{"m":"15","t":0,"v":23.5},{"m":"15","t":24,"v":27.1},{"m":"15","t":48,"v":28.6},{"m":"15","t":72,"v":28.2},{"m":"15","t":84,"v":24.9},{"m":"15","t":96,"v":23.2},{"m":"15","t":108,"v":22.1},{"m":"15","t":120,"v":21.4},{"m":"15","t":132,"v":21.7},{"m":"15","t":144,"v":20.4},{"m":"15","t":156,"v":20.6},{"m":"15","t":168,"v":20.7},{"m":"15","t":180,"v":18.1},{"m":"15","t":192,"v":17.6},{"m":"15","t":204,"v":17.4},{"m":"15","t":216,"v":18.1},{"m":"15","t":228,"v":16.4},{"m":"15","t":240,"v":16.9},{"m":"15","t":252,"v":15.7},{"m":"15","t":264,"v":16.8},{"m":"15","t":276,"v":16.2},{"m":"15","t":288,"v":17.1},{"m":"15","t":300,"v":16.7},{"m":"15","t":312,"v":16.1},{"m":"15","t":324,"v":17.2},{"m":"15","t":336,"v":17.4},{"m":"15","t":348,"v":18.3},{"m":"15","t":360,"v":17.7},{"m":"15","t":372,"v":17},{"m":"15","t":384,"v":18.2},
{"m":"16","t":0,"v":23.7},{"m":"16","t":24,"v":27.3},{"m":"16","t":48,"v":28.8},{"m":"16","t":72,"v":28.7},{"m":"16","t":84,"v":25.9},{"m":"16","t":96,"v":24.2},{"m":"16","t":108,"v":24.5},{"m":"16","t":120,"v":23.1},{"m":"16","t":132,"v":23.4},{"m":"16","t":144,"v":22.6},{"m":"16","t":156,"v":22.1},{"m":"16","t":168,"v":20.9},{"m":"16","t":180,"v":22.5},{"m":"16","t":192,"v":26.4},{"m":"16","t":204,"v":25.4},{"m":"16","t":216,"v":23.3},{"m":"16","t":228,"v":20.7},{"m":"16","t":240,"v":19.6},{"m":"16","t":252,"v":18.7},{"m":"16","t":264,"v":19.4},{"m":"16","t":276,"v":18.9},{"m":"16","t":288,"v":18.2},{"m":"16","t":300,"v":18.5},{"m":"16","t":312,"v":19.3},{"m":"16","t":324,"v":18.6},{"m":"16","t":336,"v":18.1},{"m":"16","t":348,"v":18.9},{"m":"16","t":360,"v":19.2},{"m":"16","t":372,"v":19.9},{"m":"16","t":384,"v":20.6},
{"m":"17","t":0,"v":24.8},{"m":"17","t":24,"v":28.3},{"m":"17","t":48,"v":29.4},{"m":"17","t":72,"v":28.8},{"m":"17","t":84,"v":22.8},{"m":"17","t":96,"v":23.6},{"m":"17","t":108,"v":23.9},{"m":"17","t":120,"v":21.7},{"m":"17","t":132,"v":23.6},{"m":"17","t":144,"v":24},{"m":"17","t":156,"v":24.9},{"m":"17","t":168,"v":26.3},{"m":"17","t":180,"v":27.8},{"m":"17","t":192,"v":28.1},{"m":"17","t":204,"v":28.2},{"m":"17","t":216,"v":27.5},{"m":"17","t":228,"v":25.4},{"m":"17","t":240,"v":22},{"m":"17","t":252,"v":21.1},{"m":"17","t":264,"v":19.6},{"m":"17","t":276,"v":20.3},{"m":"17","t":288,"v":20.2},{"m":"17","t":300,"v":20.9},{"m":"17","t":312,"v":20.1},{"m":"17","t":324,"v":19.3},{"m":"17","t":336,"v":20},{"m":"17","t":348,"v":22},{"m":"17","t":360,"v":19.1},{"m":"17","t":372,"v":16.7},{"m":"17","t":384,"v":14.2},
{"m":"18","t":0,"v":23.8},{"m":"18","t":24,"v":27.4},{"m":"18","t":48,"v":28.9},{"m":"18","t":72,"v":29},{"m":"18","t":84,"v":25.8},{"m":"18","t":96,"v":23.1},{"m":"18","t":108,"v":24.9},{"m":"18","t":120,"v":22.5},{"m":"18","t":132,"v":23.7},{"m":"18","t":144,"v":22.1},{"m":"18","t":156,"v":22.9},{"m":"18","t":168,"v":21.2},{"m":"18","t":180,"v":19.7},{"m":"18","t":192,"v":18.9},{"m":"18","t":204,"v":17.5},{"m":"18","t":216,"v":16.4},{"m":"18","t":228,"v":15.6},{"m":"18","t":240,"v":15.8},{"m":"18","t":252,"v":15.2},{"m":"18","t":264,"v":16.5},{"m":"18","t":276,"v":15.3},{"m":"18","t":288,"v":17.2},{"m":"18","t":300,"v":18.8},{"m":"18","t":312,"v":17.9},{"m":"18","t":324,"v":17.1},{"m":"18","t":336,"v":18.8},{"m":"18","t":348,"v":18.3},{"m":"18","t":360,"v":18.2},{"m":"18","t":372,"v":17.6},{"m":"18","t":384,"v":16.9},
{"m":"19","t":0,"v":23.6},{"m":"19","t":24,"v":27.2},{"m":"19","t":48,"v":28.5},{"m":"19","t":72,"v":28.2},{"m":"19","t":84,"v":25},{"m":"19","t":96,"v":23.4},{"m":"19","t":108,"v":23.3},{"m":"19","t":120,"v":22.9},{"m":"19","t":132,"v":22.2},{"m":"19","t":144,"v":20.8},{"m":"19","t":156,"v":20.9},{"m":"19","t":168,"v":19.6},{"m":"19","t":180,"v":18.5},{"m":"19","t":192,"v":17.2},{"m":"19","t":204,"v":16.1},{"m":"19","t":216,"v":15.8},{"m":"19","t":228,"v":14.6},{"m":"19","t":240,"v":13.1},{"m":"19","t":252,"v":12.6},{"m":"19","t":264,"v":13.2},{"m":"19","t":276,"v":14},{"m":"19","t":288,"v":14.3},{"m":"19","t":300,"v":15.3},{"m":"19","t":312,"v":15.8},{"m":"19","t":324,"v":16.4},{"m":"19","t":336,"v":15.8},{"m":"19","t":348,"v":16.2},{"m":"19","t":360,"v":16.6},{"m":"19","t":372,"v":15.2},{"m":"19","t":384,"v":13.2},
{"m":"20","t":0,"v":23.6},{"m":"20","t":24,"v":27.2},{"m":"20","t":48,"v":28.9},{"m":"20","t":72,"v":28.9},{"m":"20","t":84,"v":26},{"m":"20","t":96,"v":24.3},{"m":"20","t":108,"v":22.9},{"m":"20","t":120,"v":21.2},{"m":"20","t":132,"v":21.9},{"m":"20","t":144,"v":21.7},{"m":"20","t":156,"v":20.4},{"m":"20","t":168,"v":19.8},{"m":"20","t":180,"v":18.6},{"m":"20","t":192,"v":18.2},{"m":"20","t":204,"v":17.1},{"m":"20","t":216,"v":16.1},{"m":"20","t":228,"v":17},{"m":"20","t":240,"v":16.3},{"m":"20","t":252,"v":16.7},{"m":"20","t":264,"v":16.3},{"m":"20","t":276,"v":17.9},{"m":"20","t":288,"v":17.7},{"m":"20","t":300,"v":18.9},{"m":"20","t":312,"v":18.4},{"m":"20","t":324,"v":18.3},{"m":"20","t":336,"v":19.3},{"m":"20","t":348,"v":21.3},{"m":"20","t":360,"v":20.6},{"m":"20","t":372,"v":20.1},{"m":"20","t":384,"v":19.4},
{"m":"21","t":0,"v":23.7},{"m":"21","t":24,"v":27.6},{"m":"21","t":48,"v":28.8},{"m":"21","t":72,"v":28.6},{"m":"21","t":84,"v":25.2},{"m":"21","t":96,"v":21},{"m":"21","t":108,"v":21.8},{"m":"21","t":120,"v":22},{"m":"21","t":132,"v":22.9},{"m":"21","t":144,"v":23.1},{"m":"21","t":156,"v":22.5},{"m":"21","t":168,"v":21.1},{"m":"21","t":180,"v":21},{"m":"21","t":192,"v":20.3},{"m":"21","t":204,"v":18.9},{"m":"21","t":216,"v":18.2},{"m":"21","t":228,"v":17.7},{"m":"21","t":240,"v":17.5},{"m":"21","t":252,"v":17.8},{"m":"21","t":264,"v":18.4},{"m":"21","t":276,"v":17.9},{"m":"21","t":288,"v":18.7},{"m":"21","t":300,"v":16.6},{"m":"21","t":312,"v":14.2},{"m":"21","t":324,"v":13.3},{"m":"21","t":336,"v":13},{"m":"21","t":348,"v":13.4},{"m":"21","t":360,"v":13},{"m":"21","t":372,"v":14.2},{"m":"21","t":384,"v":14.3},
{"m":"22","t":0,"v":23.7},{"m":"22","t":24,"v":27.5},{"m":"22","t":48,"v":29},{"m":"22","t":72,"v":29},{"m":"22","t":84,"v":26.8},{"m":"22","t":96,"v":25},{"m":"22","t":108,"v":24.8},{"m":"22","t":120,"v":23.6},{"m":"22","t":132,"v":24.9},{"m":"22","t":144,"v":23},{"m":"22","t":156,"v":21.9},{"m":"22","t":168,"v":21.5},{"m":"22","t":180,"v":20.7},{"m":"22","t":192,"v":19.7},{"m":"22","t":204,"v":18.6},{"m":"22","t":216,"v":17.8},{"m":"22","t":228,"v":18.1},{"m":"22","t":240,"v":17.2},{"m":"22","t":252,"v":18.4},{"m":"22","t":264,"v":17.6},{"m":"22","t":276,"v":19.3},{"m":"22","t":288,"v":18.7},{"m":"22","t":300,"v":18},{"m":"22","t":312,"v":19.1},{"m":"22","t":324,"v":18.7},{"m":"22","t":336,"v":19.9},{"m":"22","t":348,"v":20.1},{"m":"22","t":360,"v":19.3},{"m":"22","t":372,"v":20.8},{"m":"22","t":384,"v":19.5},
{"m":"23","t":0,"v":23.5},{"m":"23","t":24,"v":27},{"m":"23","t":48,"v":28.7},{"m":"23","t":72,"v":28.3},{"m":"23","t":84,"v":24.6},{"m":"23","t":96,"v":22.8},{"m":"23","t":108,"v":22},{"m":"23","t":120,"v":20.7},{"m":"23","t":132,"v":20.9},{"m":"23","t":144,"v":21.4},{"m":"23","t":156,"v":20.2},{"m":"23","t":168,"v":21},{"m":"23","t":180,"v":19.4},{"m":"23","t":192,"v":18.9},{"m":"23","t":204,"v":17.6},{"m":"23","t":216,"v":17.6},{"m":"23","t":228,"v":16.8},{"m":"23","t":240,"v":17.8},{"m":"23","t":252,"v":15.9},{"m":"23","t":264,"v":16.7},{"m":"23","t":276,"v":18.1},{"m":"23","t":288,"v":17.3},{"m":"23","t":300,"v":17.9},{"m":"23","t":312,"v":18.6},{"m":"23","t":324,"v":19},{"m":"23","t":336,"v":20.1},{"m":"23","t":348,"v":20.5},{"m":"23","t":360,"v":18.9},{"m":"23","t":372,"v":16.6},{"m":"23","t":384,"v":17.3},
{"m":"24","t":0,"v":23.6},{"m":"24","t":24,"v":27.6},{"m":"24","t":48,"v":29.1},{"m":"24","t":72,"v":28.6},{"m":"24","t":84,"v":25.9},{"m":"24","t":96,"v":23.8},{"m":"24","t":108,"v":23.2},{"m":"24","t":120,"v":22.3},{"m":"24","t":132,"v":23.9},{"m":"24","t":144,"v":22.7},{"m":"24","t":156,"v":23.6},{"m":"24","t":168,"v":22.9},{"m":"24","t":180,"v":24},{"m":"24","t":192,"v":24.2},{"m":"24","t":204,"v":24.9},{"m":"24","t":216,"v":24.3},{"m":"24","t":228,"v":22.4},{"m":"24","t":240,"v":20.3},{"m":"24","t":252,"v":19.2},{"m":"24","t":264,"v":19.9},{"m":"24","t":276,"v":18.6},{"m":"24","t":288,"v":17.9},{"m":"24","t":300,"v":17.8},{"m":"24","t":312,"v":13.5},{"m":"24","t":324,"v":10.2},{"m":"24","t":336,"v":10.2},{"m":"24","t":348,"v":10.6},{"m":"24","t":360,"v":11.8},{"m":"24","t":372,"v":11.6},{"m":"24","t":384,"v":12.3},
{"m":"25","t":0,"v":23.7},{"m":"25","t":24,"v":27.9},{"m":"25","t":48,"v":29.7},{"m":"25","t":72,"v":29.3},{"m":"25","t":84,"v":26.3},{"m":"25","t":96,"v":22},{"m":"25","t":108,"v":22.9},{"m":"25","t":120,"v":25},{"m":"25","t":132,"v":24.5},{"m":"25","t":144,"v":23.9},{"m":"25","t":156,"v":22.6},{"m":"25","t":168,"v":20.6},{"m":"25","t":180,"v":21.3},{"m":"25","t":192,"v":22.6},{"m":"25","t":204,"v":21.8},{"m":"25","t":216,"v":20.3},{"m":"25","t":228,"v":18.9},{"m":"25","t":240,"v":18.6},{"m":"25","t":252,"v":18.5},{"m":"25","t":264,"v":19.5},{"m":"25","t":276,"v":19.2},{"m":"25","t":288,"v":19},{"m":"25","t":300,"v":18.1},{"m":"25","t":312,"v":17.9},{"m":"25","t":324,"v":18.4},{"m":"25","t":336,"v":18.8},{"m":"25","t":348,"v":19.6},{"m":"25","t":360,"v":20.1},{"m":"25","t":372,"v":23.6},{"m":"25","t":384,"v":24.1},
{"m":"26","t":0,"v":23.7},{"m":"26","t":24,"v":27.4},{"m":"26","t":48,"v":28.9},{"m":"26","t":72,"v":28.7},{"m":"26","t":84,"v":25.5},{"m":"26","t":96,"v":23.4},{"m":"26","t":108,"v":23.1},{"m":"26","t":120,"v":22.6},{"m":"26","t":132,"v":22.7},{"m":"26","t":144,"v":22.3},{"m":"26","t":156,"v":22.6},{"m":"26","t":168,"v":20.7},{"m":"26","t":180,"v":19.6},{"m":"26","t":192,"v":19.2},{"m":"26","t":204,"v":18.1},{"m":"26","t":216,"v":17.7},{"m":"26","t":228,"v":18.8},{"m":"26","t":240,"v":17.4},{"m":"26","t":252,"v":17.2},{"m":"26","t":264,"v":17.6},{"m":"26","t":276,"v":15.4},{"m":"26","t":288,"v":14.2},{"m":"26","t":300,"v":15},{"m":"26","t":312,"v":15.4},{"m":"26","t":324,"v":14.9},{"m":"26","t":336,"v":14.4},{"m":"26","t":348,"v":13.8},{"m":"26","t":360,"v":13.5},{"m":"26","t":372,"v":12.9},{"m":"26","t":384,"v":11.6},
{"m":"27","t":0,"v":23.6},{"m":"27","t":24,"v":27.2},{"m":"27","t":48,"v":28.2},{"m":"27","t":72,"v":27.6},{"m":"27","t":84,"v":22.7},{"m":"27","t":96,"v":19.7},{"m":"27","t":108,"v":21.3},{"m":"27","t":120,"v":20.1},{"m":"27","t":132,"v":21.3},{"m":"27","t":144,"v":19.7},{"m":"27","t":156,"v":20.6},{"m":"27","t":168,"v":16.9},{"m":"27","t":180,"v":17.1},{"m":"27","t":192,"v":15},{"m":"27","t":204,"v":16.1},{"m":"27","t":216,"v":15.8},{"m":"27","t":228,"v":16.4},{"m":"27","t":240,"v":16.9},{"m":"27","t":252,"v":16.3},{"m":"27","t":264,"v":17.8},{"m":"27","t":276,"v":18.1},{"m":"27","t":288,"v":16.8},{"m":"27","t":300,"v":17.3},{"m":"27","t":312,"v":18.2},{"m":"27","t":324,"v":19.8},{"m":"27","t":336,"v":18.6},{"m":"27","t":348,"v":19.9},{"m":"27","t":360,"v":18.7},{"m":"27","t":372,"v":19.1},{"m":"27","t":384,"v":18.4},
{"m":"28","t":0,"v":23.8},{"m":"28","t":24,"v":26.2},{"m":"28","t":48,"v":29.1},{"m":"28","t":72,"v":29.3},{"m":"28","t":84,"v":26.7},{"m":"28","t":96,"v":25},{"m":"28","t":108,"v":24.7},{"m":"28","t":120,"v":23.4},{"m":"28","t":132,"v":24.6},{"m":"28","t":144,"v":24.3},{"m":"28","t":156,"v":22.5},{"m":"28","t":168,"v":21.8},{"m":"28","t":180,"v":21.2},{"m":"28","t":192,"v":20.7},{"m":"28","t":204,"v":19.9},{"m":"28","t":216,"v":19.5},{"m":"28","t":228,"v":18.1},{"m":"28","t":240,"v":18.7},{"m":"28","t":252,"v":18.5},{"m":"28","t":264,"v":18.7},{"m":"28","t":276,"v":19.2},{"m":"28","t":288,"v":18.3},{"m":"28","t":300,"v":19.1},{"m":"28","t":312,"v":19.6},{"m":"28","t":324,"v":20},{"m":"28","t":336,"v":22.1},{"m":"28","t":348,"v":21.2},{"m":"28","t":360,"v":11.8},{"m":"28","t":372,"v":11.9},{"m":"28","t":384,"v":13},
{"m":"29","t":0,"v":23.7},{"m":"29","t":24,"v":27.4},{"m":"29","t":48,"v":29.3},{"m":"29","t":72,"v":29.4},{"m":"29","t":84,"v":26.2},{"m":"29","t":96,"v":24},{"m":"29","t":108,"v":26},{"m":"29","t":120,"v":27},{"m":"29","t":132,"v":27.3},{"m":"29","t":144,"v":27},{"m":"29","t":156,"v":26.5},{"m":"29","t":168,"v":25},{"m":"29","t":180,"v":24},{"m":"29","t":192,"v":22},{"m":"29","t":204,"v":21},{"m":"29","t":216,"v":19.5},{"m":"29","t":228,"v":18.9},{"m":"29","t":240,"v":19.7},{"m":"29","t":252,"v":20.7},{"m":"29","t":264,"v":21.3},{"m":"29","t":276,"v":20.5},{"m":"29","t":288,"v":24.9},{"m":"29","t":300,"v":23.9},{"m":"29","t":312,"v":21.7},{"m":"29","t":324,"v":20.7},{"m":"29","t":336,"v":18.2},{"m":"29","t":348,"v":14.4},{"m":"29","t":360,"v":16.1},{"m":"29","t":372,"v":9.2},{"m":"29","t":384,"v":7.5},
{"m":"30","t":0,"v":23.9},{"m":"30","t":24,"v":27.7},{"m":"30","t":48,"v":29.5},{"m":"30","t":72,"v":29.2},{"m":"30","t":84,"v":26.9},{"m":"30","t":96,"v":27.7},{"m":"30","t":108,"v":27.2},{"m":"30","t":120,"v":26.3},{"m":"30","t":132,"v":26.4},{"m":"30","t":144,"v":25.9},{"m":"30","t":156,"v":25.4},{"m":"30","t":168,"v":23.9},{"m":"30","t":180,"v":24},{"m":"30","t":192,"v":24.4},{"m":"30","t":204,"v":24.2},{"m":"30","t":216,"v":24.1},{"m":"30","t":228,"v":24.4},{"m":"30","t":240,"v":23.9},{"m":"30","t":252,"v":19.9},{"m":"30","t":264,"v":20.1},{"m":"30","t":276,"v":19.7},{"m":"30","t":288,"v":20.7},{"m":"30","t":300,"v":20.3},{"m":"30","t":312,"v":19.9},{"m":"30","t":324,"v":18.4},{"m":"30","t":336,"v":19.7},{"m":"30","t":348,"v":20.4},{"m":"30","t":360,"v":21},{"m":"30","t":372,"v":21.2},{"m":"30","t":384,"v":19.9}],
"t500":[
{"m":"01","t":0,"v":-7.3},{"m":"01","t":48,"v":-9.2},{"m":"01","t":96,"v":-10.6},{"m":"01","t":120,"v":-8.8},{"m":"01","t":132,"v":-8.3},{"m":"01","t":144,"v":-7.8},{"m":"01","t":156,"v":-7.2},{"m":"01","t":168,"v":-6.8},{"m":"01","t":180,"v":-6},{"m":"01","t":192,"v":-4.8},{"m":"01","t":204,"v":-4.6},{"m":"01","t":216,"v":-4.2},{"m":"01","t":228,"v":-4.2},{"m":"01","t":240,"v":-4.9},{"m":"01","t":252,"v":-6.8},{"m":"01","t":264,"v":-7.8},{"m":"01","t":276,"v":-6.6},{"m":"01","t":288,"v":-7.9},{"m":"01","t":300,"v":-9.4},{"m":"01","t":312,"v":-8.6},{"m":"01","t":324,"v":-8.1},{"m":"01","t":336,"v":-9.1},{"m":"01","t":348,"v":-9.8},{"m":"01","t":360,"v":-8.6},{"m":"01","t":372,"v":-7.9},{"m":"01","t":384,"v":-8.4},
{"m":"02","t":0,"v":-7.5},{"m":"02","t":48,"v":-9.6},{"m":"02","t":96,"v":-10.5},{"m":"02","t":120,"v":-9.8},{"m":"02","t":132,"v":-10.4},{"m":"02","t":144,"v":-9.4},{"m":"02","t":156,"v":-10.2},{"m":"02","t":168,"v":-9.9},{"m":"02","t":180,"v":-10.4},{"m":"02","t":192,"v":-10.9},{"m":"02","t":204,"v":-11.4},{"m":"02","t":216,"v":-9.6},{"m":"02","t":228,"v":-8.1},{"m":"02","t":240,"v":-7.4},{"m":"02","t":252,"v":-8.9},{"m":"02","t":264,"v":-9.6},{"m":"02","t":276,"v":-9.1},{"m":"02","t":288,"v":-10.4},{"m":"02","t":300,"v":-9.8},{"m":"02","t":312,"v":-8.7},{"m":"02","t":324,"v":-9},{"m":"02","t":336,"v":-8.6},{"m":"02","t":348,"v":-9.2},{"m":"02","t":360,"v":-10},{"m":"02","t":372,"v":-8.9},{"m":"02","t":384,"v":-8.9},
{"m":"03","t":0,"v":-7.6},{"m":"03","t":48,"v":-9.5},{"m":"03","t":96,"v":-10.2},{"m":"03","t":120,"v":-10.8},{"m":"03","t":132,"v":-9.6},{"m":"03","t":144,"v":-10.3},{"m":"03","t":156,"v":-9.3},{"m":"03","t":168,"v":-8.2},{"m":"03","t":180,"v":-8.9},{"m":"03","t":192,"v":-8.6},{"m":"03","t":204,"v":-10.4},{"m":"03","t":216,"v":-13.1},{"m":"03","t":228,"v":-12.6},{"m":"03","t":240,"v":-11.4},{"m":"03","t":252,"v":-10.2},{"m":"03","t":264,"v":-9.2},{"m":"03","t":276,"v":-9.8},{"m":"03","t":288,"v":-8.9},{"m":"03","t":300,"v":-10.1},{"m":"03","t":312,"v":-9.3},{"m":"03","t":324,"v":-8.4},{"m":"03","t":336,"v":-9.2},{"m":"03","t":348,"v":-9.6},{"m":"03","t":360,"v":-9.9},{"m":"03","t":372,"v":-10.4},{"m":"03","t":384,"v":-9.7},
{"m":"04","t":0,"v":-7.4},{"m":"04","t":48,"v":-9.3},{"m":"04","t":96,"v":-9.9},{"m":"04","t":120,"v":-8.9},{"m":"04","t":132,"v":-8.1},{"m":"04","t":144,"v":-9.4},{"m":"04","t":156,"v":-8.3},{"m":"04","t":168,"v":-9.2},{"m":"04","t":180,"v":-10.7},{"m":"04","t":192,"v":-12.4},{"m":"04","t":204,"v":-13.7},{"m":"04","t":216,"v":-14.3},{"m":"04","t":228,"v":-11.3},{"m":"04","t":240,"v":-9.7},{"m":"04","t":252,"v":-9.3},{"m":"04","t":264,"v":-10.7},{"m":"04","t":276,"v":-8.6},{"m":"04","t":288,"v":-9.1},{"m":"04","t":300,"v":-7.9},{"m":"04","t":312,"v":-8.8},{"m":"04","t":324,"v":-9.9},{"m":"04","t":336,"v":-10.3},{"m":"04","t":348,"v":-8.7},{"m":"04","t":360,"v":-9.1},{"m":"04","t":372,"v":-9.8},{"m":"04","t":384,"v":-10.2},
{"m":"05","t":0,"v":-7.2},{"m":"05","t":48,"v":-9.1},{"m":"05","t":96,"v":-10.9},{"m":"05","t":120,"v":-11.1},{"m":"05","t":132,"v":-11.4},{"m":"05","t":144,"v":-10.6},{"m":"05","t":156,"v":-11.3},{"m":"05","t":168,"v":-12},{"m":"05","t":180,"v":-12.2},{"m":"05","t":192,"v":-11.4},{"m":"05","t":204,"v":-10.6},{"m":"05","t":216,"v":-9.8},{"m":"05","t":228,"v":-9.1},{"m":"05","t":240,"v":-8.6},{"m":"05","t":252,"v":-7.9},{"m":"05","t":264,"v":-7.1},{"m":"05","t":276,"v":-6.9},{"m":"05","t":288,"v":-7.6},{"m":"05","t":300,"v":-8.6},{"m":"05","t":312,"v":-9.4},{"m":"05","t":324,"v":-8.9},{"m":"05","t":336,"v":-7.6},{"m":"05","t":348,"v":-8.1},{"m":"05","t":360,"v":-9.6},{"m":"05","t":372,"v":-10.9},{"m":"05","t":384,"v":-11.3},
{"m":"06","t":0,"v":-7.5},{"m":"06","t":48,"v":-9.7},{"m":"06","t":96,"v":-10.4},{"m":"06","t":120,"v":-10.2},{"m":"06","t":132,"v":-9.9},{"m":"06","t":144,"v":-9.6},{"m":"06","t":156,"v":-10.7},{"m":"06","t":168,"v":-10.2},{"m":"06","t":180,"v":-9.4},{"m":"06","t":192,"v":-10.6},{"m":"06","t":204,"v":-10.3},{"m":"06","t":216,"v":-8.9},{"m":"06","t":228,"v":-9.8},{"m":"06","t":240,"v":-10.1},{"m":"06","t":252,"v":-9.1},{"m":"06","t":264,"v":-8.4},{"m":"06","t":276,"v":-9.9},{"m":"06","t":288,"v":-10.3},{"m":"06","t":300,"v":-9.6},{"m":"06","t":312,"v":-10.6},{"m":"06","t":324,"v":-9.8},{"m":"06","t":336,"v":-10.4},{"m":"06","t":348,"v":-9.2},{"m":"06","t":360,"v":-9.9},{"m":"06","t":372,"v":-9.3},{"m":"06","t":384,"v":-8.6},
{"m":"07","t":0,"v":-7.7},{"m":"07","t":48,"v":-9},{"m":"07","t":96,"v":-10.8},{"m":"07","t":120,"v":-10.6},{"m":"07","t":132,"v":-9.8},{"m":"07","t":144,"v":-8.4},{"m":"07","t":156,"v":-8.7},{"m":"07","t":168,"v":-8.1},{"m":"07","t":180,"v":-7.6},{"m":"07","t":192,"v":-8.9},{"m":"07","t":204,"v":-7.5},{"m":"07","t":216,"v":-7.9},{"m":"07","t":228,"v":-11.8},{"m":"07","t":240,"v":-18.2},{"m":"07","t":252,"v":-9.9},{"m":"07","t":264,"v":-8.3},{"m":"07","t":276,"v":-8.6},{"m":"07","t":288,"v":-7.4},{"m":"07","t":300,"v":-8.3},{"m":"07","t":312,"v":-7.9},{"m":"07","t":324,"v":-9.2},{"m":"07","t":336,"v":-7.4},{"m":"07","t":348,"v":-8.7},{"m":"07","t":360,"v":-9},{"m":"07","t":372,"v":-8.2},{"m":"07","t":384,"v":-7.5},
{"m":"08","t":0,"v":-7.4},{"m":"08","t":48,"v":-9.3},{"m":"08","t":96,"v":-9.8},{"m":"08","t":120,"v":-10.1},{"m":"08","t":132,"v":-9.3},{"m":"08","t":144,"v":-8.4},{"m":"08","t":156,"v":-9.6},{"m":"08","t":168,"v":-8.4},{"m":"08","t":180,"v":-8.9},{"m":"08","t":192,"v":-9.2},{"m":"08","t":204,"v":-9},{"m":"08","t":216,"v":-9.4},{"m":"08","t":228,"v":-10.6},{"m":"08","t":240,"v":-9.7},{"m":"08","t":252,"v":-8.8},{"m":"08","t":264,"v":-8.9},{"m":"08","t":276,"v":-7.8},{"m":"08","t":288,"v":-8.7},{"m":"08","t":300,"v":-9.1},{"m":"08","t":312,"v":-9.6},{"m":"08","t":324,"v":-9.8},{"m":"08","t":336,"v":-8.2},{"m":"08","t":348,"v":-7.4},{"m":"08","t":360,"v":-7.9},{"m":"08","t":372,"v":-8.1},{"m":"08","t":384,"v":-7.7},
{"m":"09","t":0,"v":-7.6},{"m":"09","t":48,"v":-9.4},{"m":"09","t":96,"v":-10.7},{"m":"09","t":120,"v":-10.2},{"m":"09","t":132,"v":-10.8},{"m":"09","t":144,"v":-9.7},{"m":"09","t":156,"v":-11.4},{"m":"09","t":168,"v":-9.4},{"m":"09","t":180,"v":-8.6},{"m":"09","t":192,"v":-9.3},{"m":"09","t":204,"v":-8.9},{"m":"09","t":216,"v":-9.6},{"m":"09","t":228,"v":-8.9},{"m":"09","t":240,"v":-8.8},{"m":"09","t":252,"v":-9.6},{"m":"09","t":264,"v":-7.3},{"m":"09","t":276,"v":-8.2},{"m":"09","t":288,"v":-7.6},{"m":"09","t":300,"v":-7.1},{"m":"09","t":312,"v":-8.4},{"m":"09","t":324,"v":-9.1},{"m":"09","t":336,"v":-9.4},{"m":"09","t":348,"v":-9.7},{"m":"09","t":360,"v":-10.6},{"m":"09","t":372,"v":-8.6},{"m":"09","t":384,"v":-7.8},
{"m":"10","t":0,"v":-7.3},{"m":"10","t":48,"v":-9},{"m":"10","t":96,"v":-10.1},{"m":"10","t":120,"v":-8.5},{"m":"10","t":132,"v":-7.4},{"m":"10","t":144,"v":-6.4},{"m":"10","t":156,"v":-6.1},{"m":"10","t":168,"v":-5.9},{"m":"10","t":180,"v":-6.8},{"m":"10","t":192,"v":-5.9},{"m":"10","t":204,"v":-6.8},{"m":"10","t":216,"v":-7},{"m":"10","t":228,"v":-7.5},{"m":"10","t":240,"v":-8.1},{"m":"10","t":252,"v":-8.9},{"m":"10","t":264,"v":-7.9},{"m":"10","t":276,"v":-9},{"m":"10","t":288,"v":-9.8},{"m":"10","t":300,"v":-10.4},{"m":"10","t":312,"v":-8.9},{"m":"10","t":324,"v":-9.9},{"m":"10","t":336,"v":-8.1},{"m":"10","t":348,"v":-7.9},{"m":"10","t":360,"v":-7.6},{"m":"10","t":372,"v":-8.8},{"m":"10","t":384,"v":-8.3},
{"m":"11","t":0,"v":-7.5},{"m":"11","t":48,"v":-9.5},{"m":"11","t":96,"v":-10.3},{"m":"11","t":120,"v":-9.4},{"m":"11","t":132,"v":-10.1},{"m":"11","t":144,"v":-10.7},{"m":"11","t":156,"v":-9.9},{"m":"11","t":168,"v":-8.8},{"m":"11","t":180,"v":-9.7},{"m":"11","t":192,"v":-10.3},{"m":"11","t":204,"v":-9.6},{"m":"11","t":216,"v":-8.7},{"m":"11","t":228,"v":-9.1},{"m":"11","t":240,"v":-10.4},{"m":"11","t":252,"v":-8.9},{"m":"11","t":264,"v":-8.4},{"m":"11","t":276,"v":-9.3},{"m":"11","t":288,"v":-8.5},{"m":"11","t":300,"v":-10.6},{"m":"11","t":312,"v":-8.1},{"m":"11","t":324,"v":-8.9},{"m":"11","t":336,"v":-9.8},{"m":"11","t":348,"v":-10.7},{"m":"11","t":360,"v":-9.4},{"m":"11","t":372,"v":-10.3},{"m":"11","t":384,"v":-9.4},
{"m":"12","t":0,"v":-7.4},{"m":"12","t":48,"v":-9.6},{"m":"12","t":96,"v":-10.6},{"m":"12","t":120,"v":-9.1},{"m":"12","t":132,"v":-8.1},{"m":"12","t":144,"v":-7.3},{"m":"12","t":156,"v":-7.8},{"m":"12","t":168,"v":-6.2},{"m":"12","t":180,"v":-4.5},{"m":"12","t":192,"v":-3.8},{"m":"12","t":204,"v":-8.1},{"m":"12","t":216,"v":-9.4},{"m":"12","t":228,"v":-11},{"m":"12","t":240,"v":-11.1},{"m":"12","t":252,"v":-10.9},{"m":"12","t":264,"v":-11.6},{"m":"12","t":276,"v":-11.4},{"m":"12","t":288,"v":-10.6},{"m":"12","t":300,"v":-9.7},{"m":"12","t":312,"v":-9.8},{"m":"12","t":324,"v":-10.4},{"m":"12","t":336,"v":-9.7},{"m":"12","t":348,"v":-10.2},{"m":"12","t":360,"v":-8.9},{"m":"12","t":372,"v":-9.4},{"m":"12","t":384,"v":-9.1},
{"m":"13","t":0,"v":-7.6},{"m":"13","t":48,"v":-9.2},{"m":"13","t":96,"v":-9.7},{"m":"13","t":120,"v":-8.9},{"m":"13","t":132,"v":-9.6},{"m":"13","t":144,"v":-8.8},{"m":"13","t":156,"v":-8.4},{"m":"13","t":168,"v":-9},{"m":"13","t":180,"v":-9.3},{"m":"13","t":192,"v":-9.8},{"m":"13","t":204,"v":-8.2},{"m":"13","t":216,"v":-8.1},{"m":"13","t":228,"v":-8.7},{"m":"13","t":240,"v":-7.6},{"m":"13","t":252,"v":-6.4},{"m":"13","t":264,"v":-4.9},{"m":"13","t":276,"v":-3.9},{"m":"13","t":288,"v":-4.6},{"m":"13","t":300,"v":-5.6},{"m":"13","t":312,"v":-6.2},{"m":"13","t":324,"v":-6.6},{"m":"13","t":336,"v":-6.3},{"m":"13","t":348,"v":-7.4},{"m":"13","t":360,"v":-6.8},{"m":"13","t":372,"v":-5.9},{"m":"13","t":384,"v":-6.4},
{"m":"14","t":0,"v":-7.5},{"m":"14","t":48,"v":-9.4},{"m":"14","t":96,"v":-10.4},{"m":"14","t":120,"v":-9.6},{"m":"14","t":132,"v":-9.9},{"m":"14","t":144,"v":-9.4},{"m":"14","t":156,"v":-8.7},{"m":"14","t":168,"v":-8.9},{"m":"14","t":180,"v":-9.8},{"m":"14","t":192,"v":-9.2},{"m":"14","t":204,"v":-9.6},{"m":"14","t":216,"v":-8.4},{"m":"14","t":228,"v":-7.9},{"m":"14","t":240,"v":-8.2},{"m":"14","t":252,"v":-7.9},{"m":"14","t":264,"v":-9.4},{"m":"14","t":276,"v":-9.6},{"m":"14","t":288,"v":-8.9},{"m":"14","t":300,"v":-8.1},{"m":"14","t":312,"v":-6.4},{"m":"14","t":324,"v":-4.4},{"m":"14","t":336,"v":-3.7},{"m":"14","t":348,"v":-2.7},{"m":"14","t":360,"v":-4.3},{"m":"14","t":372,"v":-4.6},{"m":"14","t":384,"v":-6.3},
{"m":"15","t":0,"v":-7.7},{"m":"15","t":48,"v":-9.7},{"m":"15","t":96,"v":-11},{"m":"15","t":120,"v":-10.7},{"m":"15","t":132,"v":-10.3},{"m":"15","t":144,"v":-10.9},{"m":"15","t":156,"v":-9.6},{"m":"15","t":168,"v":-10.8},{"m":"15","t":180,"v":-10.4},{"m":"15","t":192,"v":-11.3},{"m":"15","t":204,"v":-9.6},{"m":"15","t":216,"v":-10.1},{"m":"15","t":228,"v":-9.3},{"m":"15","t":240,"v":-9.9},{"m":"15","t":252,"v":-8.6},{"m":"15","t":264,"v":-9.6},{"m":"15","t":276,"v":-8.8},{"m":"15","t":288,"v":-9.3},{"m":"15","t":300,"v":-8.4},{"m":"15","t":312,"v":-9.9},{"m":"15","t":324,"v":-7.4},{"m":"15","t":336,"v":-8.9},{"m":"15","t":348,"v":-8.6},{"m":"15","t":360,"v":-7.8},{"m":"15","t":372,"v":-9.4},{"m":"15","t":384,"v":-8.2},
{"m":"16","t":0,"v":-7.4},{"m":"16","t":48,"v":-9.1},{"m":"16","t":96,"v":-10.3},{"m":"16","t":120,"v":-10.4},{"m":"16","t":132,"v":-10.7},{"m":"16","t":144,"v":-10.1},{"m":"16","t":156,"v":-11.2},{"m":"16","t":168,"v":-9.8},{"m":"16","t":180,"v":-11.4},{"m":"16","t":192,"v":-12.2},{"m":"16","t":204,"v":-10.9},{"m":"16","t":216,"v":-11.2},{"m":"16","t":228,"v":-10.4},{"m":"16","t":240,"v":-9.6},{"m":"16","t":252,"v":-8.4},{"m":"16","t":264,"v":-7.8},{"m":"16","t":276,"v":-8.9},{"m":"16","t":288,"v":-9.9},{"m":"16","t":300,"v":-10.7},{"m":"16","t":312,"v":-9.2},{"m":"16","t":324,"v":-8.7},{"m":"16","t":336,"v":-7.9},{"m":"16","t":348,"v":-8.4},{"m":"16","t":360,"v":-9.3},{"m":"16","t":372,"v":-8.9},{"m":"16","t":384,"v":-9.9},
{"m":"17","t":0,"v":-7.2},{"m":"17","t":48,"v":-9.2},{"m":"17","t":96,"v":-9.8},{"m":"17","t":120,"v":-8.4},{"m":"17","t":132,"v":-9.1},{"m":"17","t":144,"v":-10},{"m":"17","t":156,"v":-8.9},{"m":"17","t":168,"v":-9.3},{"m":"17","t":180,"v":-8.2},{"m":"17","t":192,"v":-7.4},{"m":"17","t":204,"v":-6.6},{"m":"17","t":216,"v":-7.8},{"m":"17","t":228,"v":-7.7},{"m":"17","t":240,"v":-8.9},{"m":"17","t":252,"v":-4.6},{"m":"17","t":264,"v":-3.6},{"m":"17","t":276,"v":-4.6},{"m":"17","t":288,"v":-5.6},{"m":"17","t":300,"v":-7.4},{"m":"17","t":312,"v":-8.7},{"m":"17","t":324,"v":-10.4},{"m":"17","t":336,"v":-8.6},{"m":"17","t":348,"v":-8.2},{"m":"17","t":360,"v":-7.8},{"m":"17","t":372,"v":-9.2},{"m":"17","t":384,"v":-9.6},
{"m":"18","t":0,"v":-7.6},{"m":"18","t":48,"v":-9.6},{"m":"18","t":96,"v":-10.5},{"m":"18","t":120,"v":-7.8},{"m":"18","t":132,"v":-6.9},{"m":"18","t":144,"v":-6.8},{"m":"18","t":156,"v":-7.9},{"m":"18","t":168,"v":-8.6},{"m":"18","t":180,"v":-10.4},{"m":"18","t":192,"v":-11.9},{"m":"18","t":204,"v":-11.4},{"m":"18","t":216,"v":-13.2},{"m":"18","t":228,"v":-10.7},{"m":"18","t":240,"v":-9.8},{"m":"18","t":252,"v":-8.9},{"m":"18","t":264,"v":-9.9},{"m":"18","t":276,"v":-10.7},{"m":"18","t":288,"v":-11.4},{"m":"18","t":300,"v":-11.9},{"m":"18","t":312,"v":-10.1},{"m":"18","t":324,"v":-9.6},{"m":"18","t":336,"v":-9.4},{"m":"18","t":348,"v":-10.6},{"m":"18","t":360,"v":-9.2},{"m":"18","t":372,"v":-10.9},{"m":"18","t":384,"v":-11.3},
{"m":"19","t":0,"v":-7.4},{"m":"19","t":48,"v":-9.2},{"m":"19","t":96,"v":-10.7},{"m":"19","t":120,"v":-11.6},{"m":"19","t":132,"v":-12.2},{"m":"19","t":144,"v":-12.1},{"m":"19","t":156,"v":-11.3},{"m":"19","t":168,"v":-12.9},{"m":"19","t":180,"v":-11.7},{"m":"19","t":192,"v":-11.6},{"m":"19","t":204,"v":-11.9},{"m":"19","t":216,"v":-13.2},{"m":"19","t":228,"v":-13.1},{"m":"19","t":240,"v":-11.6},{"m":"19","t":252,"v":-12.5},{"m":"19","t":264,"v":-11.2},{"m":"19","t":276,"v":-10.1},{"m":"19","t":288,"v":-9.7},{"m":"19","t":300,"v":-9.3},{"m":"19","t":312,"v":-10.1},{"m":"19","t":324,"v":-10.8},{"m":"19","t":336,"v":-11.7},{"m":"19","t":348,"v":-10.9},{"m":"19","t":360,"v":-10.4},{"m":"19","t":372,"v":-11.1},{"m":"19","t":384,"v":-12.8},
{"m":"20","t":0,"v":-7.5},{"m":"20","t":48,"v":-9.3},{"m":"20","t":96,"v":-10.2},{"m":"20","t":120,"v":-7.1},{"m":"20","t":132,"v":-7.8},{"m":"20","t":144,"v":-8.6},{"m":"20","t":156,"v":-7.6},{"m":"20","t":168,"v":-8.3},{"m":"20","t":180,"v":-8.9},{"m":"20","t":192,"v":-9.4},{"m":"20","t":204,"v":-8.7},{"m":"20","t":216,"v":-8.1},{"m":"20","t":228,"v":-8.3},{"m":"20","t":240,"v":-7.9},{"m":"20","t":252,"v":-9.6},{"m":"20","t":264,"v":-9.9},{"m":"20","t":276,"v":-8.1},{"m":"20","t":288,"v":-8.7},{"m":"20","t":300,"v":-7.4},{"m":"20","t":312,"v":-8.3},{"m":"20","t":324,"v":-7.7},{"m":"20","t":336,"v":-8.6},{"m":"20","t":348,"v":-9.1},{"m":"20","t":360,"v":-10.2},{"m":"20","t":372,"v":-9.7},{"m":"20","t":384,"v":-9},
{"m":"21","t":0,"v":-7.4},{"m":"21","t":48,"v":-9.4},{"m":"21","t":96,"v":-9.9},{"m":"21","t":120,"v":-10.9},{"m":"21","t":132,"v":-11.3},{"m":"21","t":144,"v":-10.2},{"m":"21","t":156,"v":-10.6},{"m":"21","t":168,"v":-11.2},{"m":"21","t":180,"v":-12},{"m":"21","t":192,"v":-11.4},{"m":"21","t":204,"v":-12.6},{"m":"21","t":216,"v":-12.4},{"m":"21","t":228,"v":-12.1},{"m":"21","t":240,"v":-9.9},{"m":"21","t":252,"v":-10.4},{"m":"21","t":264,"v":-9.7},{"m":"21","t":276,"v":-10.4},{"m":"21","t":288,"v":-10.7},{"m":"21","t":300,"v":-9.6},{"m":"21","t":312,"v":-9.9},{"m":"21","t":324,"v":-12.5},{"m":"21","t":336,"v":-13.2},{"m":"21","t":348,"v":-11.8},{"m":"21","t":360,"v":-10.8},{"m":"21","t":372,"v":-10.4},{"m":"21","t":384,"v":-9.7},
{"m":"22","t":0,"v":-7.3},{"m":"22","t":48,"v":-9.5},{"m":"22","t":96,"v":-10.8},{"m":"22","t":120,"v":-9.7},{"m":"22","t":132,"v":-9.2},{"m":"22","t":144,"v":-8.9},{"m":"22","t":156,"v":-10.2},{"m":"22","t":168,"v":-10.8},{"m":"22","t":180,"v":-9.6},{"m":"22","t":192,"v":-8.6},{"m":"22","t":204,"v":-7.9},{"m":"22","t":216,"v":-7.2},{"m":"22","t":228,"v":-6.9},{"m":"22","t":240,"v":-6.4},{"m":"22","t":252,"v":-6.9},{"m":"22","t":264,"v":-6.1},{"m":"22","t":276,"v":-7.4},{"m":"22","t":288,"v":-5.9},{"m":"22","t":300,"v":-7.2},{"m":"22","t":312,"v":-6.9},{"m":"22","t":324,"v":-7.9},{"m":"22","t":336,"v":-8.9},{"m":"22","t":348,"v":-7.6},{"m":"22","t":360,"v":-6.9},{"m":"22","t":372,"v":-7.6},{"m":"22","t":384,"v":-7.1},
{"m":"23","t":0,"v":-7.6},{"m":"23","t":48,"v":-9.1},{"m":"23","t":96,"v":-10.4},{"m":"23","t":120,"v":-9.9},{"m":"23","t":132,"v":-10.8},{"m":"23","t":144,"v":-11.3},{"m":"23","t":156,"v":-10.1},{"m":"23","t":168,"v":-9.8},{"m":"23","t":180,"v":-10.6},{"m":"23","t":192,"v":-10.9},{"m":"23","t":204,"v":-10.2},{"m":"23","t":216,"v":-9.3},{"m":"23","t":228,"v":-8.9},{"m":"23","t":240,"v":-9.2},{"m":"23","t":252,"v":-9.9},{"m":"23","t":264,"v":-10.4},{"m":"23","t":276,"v":-9.4},{"m":"23","t":288,"v":-10.1},{"m":"23","t":300,"v":-9.9},{"m":"23","t":312,"v":-11.4},{"m":"23","t":324,"v":-10.9},{"m":"23","t":336,"v":-10.6},{"m":"23","t":348,"v":-9.9},{"m":"23","t":360,"v":-9.4},{"m":"23","t":372,"v":-10.6},{"m":"23","t":384,"v":-11.1},
{"m":"24","t":0,"v":-7.5},{"m":"24","t":48,"v":-9.7},{"m":"24","t":96,"v":-10.1},{"m":"24","t":120,"v":-9.2},{"m":"24","t":132,"v":-8.6},{"m":"24","t":144,"v":-8.3},{"m":"24","t":156,"v":-8.7},{"m":"24","t":168,"v":-8.4},{"m":"24","t":180,"v":-10.2},{"m":"24","t":192,"v":-9.4},{"m":"24","t":204,"v":-11.6},{"m":"24","t":216,"v":-13.5},{"m":"24","t":228,"v":-14.2},{"m":"24","t":240,"v":-10.7},{"m":"24","t":252,"v":-8.4},{"m":"24","t":264,"v":-8.1},{"m":"24","t":276,"v":-7.3},{"m":"24","t":288,"v":-7},{"m":"24","t":300,"v":-7.9},{"m":"24","t":312,"v":-8.4},{"m":"24","t":324,"v":-8.9},{"m":"24","t":336,"v":-9.9},{"m":"24","t":348,"v":-9.6},{"m":"24","t":360,"v":-7.7},{"m":"24","t":372,"v":-8.1},{"m":"24","t":384,"v":-8.9},
{"m":"25","t":0,"v":-7.4},{"m":"25","t":48,"v":-9.2},{"m":"25","t":96,"v":-10.3},{"m":"25","t":120,"v":-10},{"m":"25","t":132,"v":-9.4},{"m":"25","t":144,"v":-9.1},{"m":"25","t":156,"v":-8.6},{"m":"25","t":168,"v":-9.7},{"m":"25","t":180,"v":-9.9},{"m":"25","t":192,"v":-8.9},{"m":"25","t":204,"v":-7.4},{"m":"25","t":216,"v":-8.6},{"m":"25","t":228,"v":-8.8},{"m":"25","t":240,"v":-9.3},{"m":"25","t":252,"v":-9.2},{"m":"25","t":264,"v":-9.6},{"m":"25","t":276,"v":-8.3},{"m":"25","t":288,"v":-9.4},{"m":"25","t":300,"v":-9.7},{"m":"25","t":312,"v":-8.6},{"m":"25","t":324,"v":-7.6},{"m":"25","t":336,"v":-8.2},{"m":"25","t":348,"v":-7.7},{"m":"25","t":360,"v":-9.6},{"m":"25","t":372,"v":-10.1},{"m":"25","t":384,"v":-9.4},
{"m":"26","t":0,"v":-7.6},{"m":"26","t":48,"v":-9.6},{"m":"26","t":96,"v":-10.6},{"m":"26","t":120,"v":-8.7},{"m":"26","t":132,"v":-8.4},{"m":"26","t":144,"v":-9.6},{"m":"26","t":156,"v":-9.9},{"m":"26","t":168,"v":-10.4},{"m":"26","t":180,"v":-9.4},{"m":"26","t":192,"v":-10.7},{"m":"26","t":204,"v":-9.9},{"m":"26","t":216,"v":-9.8},{"m":"26","t":228,"v":-10},{"m":"26","t":240,"v":-9.2},{"m":"26","t":252,"v":-9.7},{"m":"26","t":264,"v":-8.8},{"m":"26","t":276,"v":-9.6},{"m":"26","t":288,"v":-10.8},{"m":"26","t":300,"v":-10.7},{"m":"26","t":312,"v":-11.2},{"m":"26","t":324,"v":-9.6},{"m":"26","t":336,"v":-9.1},{"m":"26","t":348,"v":-9.9},{"m":"26","t":360,"v":-12.7},{"m":"26","t":372,"v":-14.3},{"m":"26","t":384,"v":-14.1},
{"m":"27","t":0,"v":-7.7},{"m":"27","t":48,"v":-9.8},{"m":"27","t":96,"v":-10.9},{"m":"27","t":120,"v":-11.4},{"m":"27","t":132,"v":-11.9},{"m":"27","t":144,"v":-10.8},{"m":"27","t":156,"v":-11.3},{"m":"27","t":168,"v":-9.6},{"m":"27","t":180,"v":-10.1},{"m":"27","t":192,"v":-9.9},{"m":"27","t":204,"v":-9.1},{"m":"27","t":216,"v":-8.8},{"m":"27","t":228,"v":-7.9},{"m":"27","t":240,"v":-8.6},{"m":"27","t":252,"v":-7.8},{"m":"27","t":264,"v":-8.4},{"m":"27","t":276,"v":-8.1},{"m":"27","t":288,"v":-7.2},{"m":"27","t":300,"v":-6.8},{"m":"27","t":312,"v":-3.9},{"m":"27","t":324,"v":-4.4},{"m":"27","t":336,"v":-5.6},{"m":"27","t":348,"v":-6.4},{"m":"27","t":360,"v":-7.4},{"m":"27","t":372,"v":-7.1},{"m":"27","t":384,"v":-7.9},
{"m":"28","t":0,"v":-7.3},{"m":"28","t":48,"v":-9.4},{"m":"28","t":96,"v":-9.4},{"m":"28","t":120,"v":-9.6},{"m":"28","t":132,"v":-8.9},{"m":"28","t":144,"v":-9.9},{"m":"28","t":156,"v":-9.4},{"m":"28","t":168,"v":-8.8},{"m":"28","t":180,"v":-8.1},{"m":"28","t":192,"v":-7.9},{"m":"28","t":204,"v":-8.6},{"m":"28","t":216,"v":-8.9},{"m":"28","t":228,"v":-9.1},{"m":"28","t":240,"v":-8.4},{"m":"28","t":252,"v":-8.6},{"m":"28","t":264,"v":-7.6},{"m":"28","t":276,"v":-6.7},{"m":"28","t":288,"v":-8.1},{"m":"28","t":300,"v":-8.9},{"m":"28","t":312,"v":-7.9},{"m":"28","t":324,"v":-8.8},{"m":"28","t":336,"v":-7.2},{"m":"28","t":348,"v":-6.3},{"m":"28","t":360,"v":-5.9},{"m":"28","t":372,"v":-6.8},{"m":"28","t":384,"v":-7.1},
{"m":"29","t":0,"v":-7.5},{"m":"29","t":48,"v":-9.5},{"m":"29","t":96,"v":-11.3},{"m":"29","t":120,"v":-10.2},{"m":"29","t":132,"v":-10.9},{"m":"29","t":144,"v":-11.1},{"m":"29","t":156,"v":-10.3},{"m":"29","t":168,"v":-10.5},{"m":"29","t":180,"v":-10.9},{"m":"29","t":192,"v":-8.2},{"m":"29","t":204,"v":-7.1},{"m":"29","t":216,"v":-6.6},{"m":"29","t":228,"v":-6.8},{"m":"29","t":240,"v":-7.2},{"m":"29","t":252,"v":-7.5},{"m":"29","t":264,"v":-6.4},{"m":"29","t":276,"v":-7.1},{"m":"29","t":288,"v":-6.8},{"m":"29","t":300,"v":-7.9},{"m":"29","t":312,"v":-6.1},{"m":"29","t":324,"v":-6.9},{"m":"29","t":336,"v":-6.2},{"m":"29","t":348,"v":-8.3},{"m":"29","t":360,"v":-9.2},{"m":"29","t":372,"v":-10.8},{"m":"29","t":384,"v":-14.8},
{"m":"30","t":0,"v":-7.6},{"m":"30","t":48,"v":-9.3},{"m":"30","t":96,"v":-11.1},{"m":"30","t":120,"v":-9.7},{"m":"30","t":132,"v":-10.6},{"m":"30","t":144,"v":-9.2},{"m":"30","t":156,"v":-9.7},{"m":"30","t":168,"v":-10.6},{"m":"30","t":180,"v":-11.8},{"m":"30","t":192,"v":-10.9},{"m":"30","t":204,"v":-9.3},{"m":"30","t":216,"v":-8.6},{"m":"30","t":228,"v":-11.8},{"m":"30","t":240,"v":-12},{"m":"30","t":252,"v":-11},{"m":"30","t":264,"v":-8.1},{"m":"30","t":276,"v":-9.1},{"m":"30","t":288,"v":-10.1},{"m":"30","t":300,"v":-9.9},{"m":"30","t":312,"v":-8.8},{"m":"30","t":324,"v":-8.4},{"m":"30","t":336,"v":-7.4},{"m":"30","t":348,"v":-8.9},{"m":"30","t":360,"v":-7.9},{"m":"30","t":372,"v":-8.6},{"m":"30","t":384,"v":-9.3}],
"swatch":[{"m":"01"},{"m":"02"},{"m":"03"},{"m":"04"},{"m":"05"},{"m":"06"},{"m":"07"},{"m":"08"},{"m":"09"},{"m":"10"},{"m":"11"},{"m":"12"},{"m":"13"},{"m":"14"},{"m":"15"},{"m":"16"},{"m":"17"},{"m":"18"},{"m":"19"},{"m":"20"},{"m":"21"},{"m":"22"},{"m":"23"},{"m":"24"},{"m":"25"},{"m":"26"},{"m":"27"},{"m":"28"},{"m":"29"},{"m":"30"}]},
"layer":[{"layer":[
{"data":{"name":"main850"},"transform":[{"filter":"datum.m!='moy'"}],"mark":{"type":"line","strokeWidth":3},"encoding":{"x":{"field":"t","type":"quantitative","scale":{"domain":[0,384],"nice":false,"zero":false},"axis":{"values":[12,36,60,84,108,132,156,180,204,228,252,276,300,324,348,372],"labelExpr":"['26/08','27/08','28/08','29/08','30/08','31/08','01/09','02/09','03/09','04/09','05/09','06/09','07/09','08/09','09/09','10/09'][(datum.value-12)/24]","labelAngle":270,"labelAlign":"right","labelBaseline":"middle","labelOffset":7,"labelPadding":2,"labelOverlap":false,"tickCount":20,"ticks":false,"grid":true,"gridColor":"#bbbbbb","gridWidth":1,"domainColor":"black"}},"y":{"field":"v","type":"quantitative","scale":{"domain":[-52.714,33],"nice":false,"zero":false},"axis":{"values":[30,25,20,15,10,5,0,-5,-10,-15,-20,-25,-30,-35,-40,-45],"tickCount":20,"labelAlign":"left","labelPadding":30,"labelOffset":2,"labelOverlap":false,"labelExpr":"replace(format(datum.value,'d'),'−','-')","ticks":false,"grid":true,"gridColor":{"condition":{"test":"datum.value==0","value":"#999999"},"value":"#bbbbbb"},"gridWidth":{"condition":{"test":"datum.value%10==0","value":2},"value":1},"domainColor":"black"}},"color":{"field":"m","type":"nominal","legend":null,"scale":{"domain":["01","02","03","04","05","06","07","08","09","10","11","12","13","14","15","16","17","18","19","20","21","22","23","24","25","26","27","28","29","30","ctl","gfs","moy"],"range":["#e8802c","#88c870","#f2c400","#8a50a8","#b5530f","#5a8505","#0a84ff","#e6d3a8","#3d8fb8","#e8a850","#6a5420","#f5651e","#d0c078","#08d860","#224860","#667078","#dd70f0","#7a20f0","#7a5a28","#2a0a70","#f2d800","#2268a0","#8a5a20","#9b88e8","#a0ff30","#d070d0","#1a0a98","#e0ccaa","#870808","#0a38b0","#0000ee","#000000","#ff0000"]}}}},
{"data":{"name":"main500"},"transform":[{"filter":"datum.m!='moy'"}],"mark":{"type":"line","strokeWidth":3},"encoding":{"x":{"field":"t","type":"quantitative"},"y":{"field":"v","type":"quantitative"},"color":{"field":"m","type":"nominal"}}},
{"data":{"name":"t850"},"mark":{"type":"line","strokeWidth":1,"point":{"size":7,"filled":true}},"encoding":{"x":{"field":"t","type":"quantitative"},"y":{"field":"v","type":"quantitative"},"color":{"field":"m","type":"nominal"}}},
{"data":{"name":"t500"},"mark":{"type":"line","strokeWidth":1,"point":{"size":7,"filled":true}},"encoding":{"x":{"field":"t","type":"quantitative"},"y":{"field":"v","type":"quantitative"},"color":{"field":"m","type":"nominal"}}},
{"data":{"name":"main850"},"transform":[{"filter":"datum.m=='moy'"}],"mark":{"type":"line","strokeWidth":4},"encoding":{"x":{"field":"t","type":"quantitative"},"y":{"field":"v","type":"quantitative"},"color":{"field":"m","type":"nominal"}}},
{"data":{"name":"main500"},"transform":[{"filter":"datum.m=='moy'"}],"mark":{"type":"line","strokeWidth":4},"encoding":{"x":{"field":"t","type":"quantitative"},"y":{"field":"v","type":"quantitative"},"color":{"field":"m","type":"nominal"}}},
{"data":{"name":"one"},"mark":{"type":"text"},"encoding":{"x":{"datum":6},"y":{"datum":31.2},"text":{"value":"Temp. 850hPa"}}},
{"data":{"name":"one"},"mark":{"type":"text"},"encoding":{"x":{"datum":6},"y":{"datum":-5.7},"text":{"value":"Temp. 500hPa"}}},
{"data":{"name":"one"},"mark":{"type":"text"},"encoding":{"x":{"datum":5.4},"y":{"datum":-43.4},"text":{"value":"Précipitations"}}},
{"data":{"name":"one"},"mark":{"type":"text"},"encoding":{"x":{"datum":-17.4},"y":{"datum":-53.7},"text":{"value":"(°C)"}}},
{"data":{"name":"one"},"mark":{"type":"text"},"encoding":{"x":{"datum":396.4},"y":{"datum":-53.7},"text":{"value":"(mm)"}}},
{"data":{"name":"one"},"mark":{"type":"text"},"encoding":{"x":{"datum":-24},"y":{"datum":-56},"text":{"value":"Alt. 153m"}}},
{"data":{"name":"one"},"mark":{"type":"text"},"encoding":{"x":{"datum":15},"y":{"datum":-58},"text":{"value":"Moyenne des scénarios"}}},
{"data":{"name":"one"},"mark":{"type":"text"},"encoding":{"x":{"datum":129},"y":{"datum":-58},"text":{"value":"Run de contrôle"}}},
{"data":{"name":"one"},"mark":{"type":"text"},"encoding":{"x":{"datum":129},"y":{"datum":-59.47},"text":{"value":"Run GFS"}}},
{"data":{"name":"one"},"mark":{"type":"text"},"encoding":{"x":{"datum":15},"y":{"datum":-61.2},"text":{"value":"Risque neige"}}},
{"data":{"name":"one"},"mark":{"type":"text","align":"center","fontSize":14,"color":"#4aa8e8"},"encoding":{"x":{"datum":6},"y":{"datum":-61.1},"text":{"value":"❄"}}},
{"data":{"name":"one"},"mark":{"type":"text"},"encoding":{"x":{"datum":174},"y":{"datum":-60.1},"text":{"value":"30 Perts."}}},
{"data":{"name":"one"},"mark":{"type":"rule","color":"#ff0000","strokeWidth":4},"encoding":{"x":{"datum":-9},"x2":{"datum":9.6},"y":{"datum":-58}}},
{"data":{"name":"one"},"mark":{"type":"rule","color":"#0000ee","strokeWidth":4},"encoding":{"x":{"datum":105},"x2":{"datum":123.6},"y":{"datum":-58}}},
{"data":{"name":"one"},"mark":{"type":"rule","color":"#000000","strokeWidth":4},"encoding":{"x":{"datum":105},"x2":{"datum":123.6},"y":{"datum":-59.47}}},
{"data":{"name":"one"},"mark":{"type":"rect","fill":null,"stroke":"black"},"encoding":{"x":{"datum":-17.7},"x2":{"datum":234.2},"y":{"datum":-62.4},"y2":{"datum":-66.9}}},
{"data":{"name":"one"},"mark":{"type":"text","fontWeight":"bold","fontSize":11.6},"encoding":{"x":{"datum":-12},"y":{"datum":-63.7},"text":{"value":"Diagramme des ensembles GEFS sur 384h : 39.2N 9E"}}},
{"data":{"name":"one"},"mark":{"type":"text"},"encoding":{"x":{"datum":-12},"y":{"datum":-65.9},"text":{"value":"Températures 850hPa et 500hPa (°C) , précipitations (mm)"}}},
{"data":{"name":"one"},"mark":{"type":"text"},"encoding":{"x":{"datum":240},"y":{"datum":-63.4},"text":{"value":"Ensemble GEFS du 25/08/2026 - 12Z"}}},
{"data":{"name":"one"},"mark":{"type":"text","fontWeight":"bold","fontSize":11.6},"encoding":{"x":{"datum":240},"y":{"datum":-65.9},"text":{"value":"Copyright 2026 Meteociel.fr"}}}
]},
{"layer":[
{"data":{"name":"mainprcp"},"transform":[{"filter":"datum.m=='ctl'"}],"mark":{"type":"line","strokeWidth":3},"encoding":{"x":{"field":"t","type":"quantitative","scale":{"domain":[0,384],"nice":false,"zero":false},"axis":null},"y":{"field":"v","type":"quantitative","scale":{"domain":[-7.714,78],"nice":false,"zero":false},"axis":{"orient":"right","values":[75,70,65,60,55,50,45,40,35,30,25,20,15,10,5,0],"tickCount":20,"labelAlign":"left","labelPadding":20,"labelOffset":2,"labelOverlap":false,"ticks":false,"grid":false,"domainColor":"black"}},"color":{"field":"m","type":"nominal"}}},
{"data":{"name":"prcp"},"mark":{"type":"line","strokeWidth":1,"point":{"size":7,"filled":true}},"encoding":{"x":{"field":"t","type":"quantitative"},"y":{"field":"v","type":"quantitative"},"color":{"field":"m","type":"nominal"}}},
{"data":{"name":"mainprcp"},"transform":[{"filter":"datum.m=='moy'"}],"mark":{"type":"line","strokeWidth":4},"encoding":{"x":{"field":"t","type":"quantitative"},"y":{"field":"v","type":"quantitative"},"color":{"field":"m","type":"nominal"}}}
]},
{"data":{"name":"swatch"},"layer":[
{"mark":{"type":"rect"},"encoding":{"x":{"field":"m","type":"nominal","scale":{"range":[350,680],"paddingInner":0.09,"paddingOuter":0},"axis":null},"y":{"datum":-59.86,"scale":{"domain":[-52.714,33],"nice":false,"zero":false},"axis":null},"y2":{"datum":-60.71},"color":{"field":"m","type":"nominal"}}},
{"mark":{"type":"text","align":"center","fontSize":7.5},"encoding":{"x":{"field":"m","type":"nominal"},"y":{"datum":-59.14},"text":{"field":"m","type":"nominal"}}}
]}],"resolve":{"scale":{"x":"independent","y":"independent"},"axis":{"x":"independent","y":"independent"}}}
